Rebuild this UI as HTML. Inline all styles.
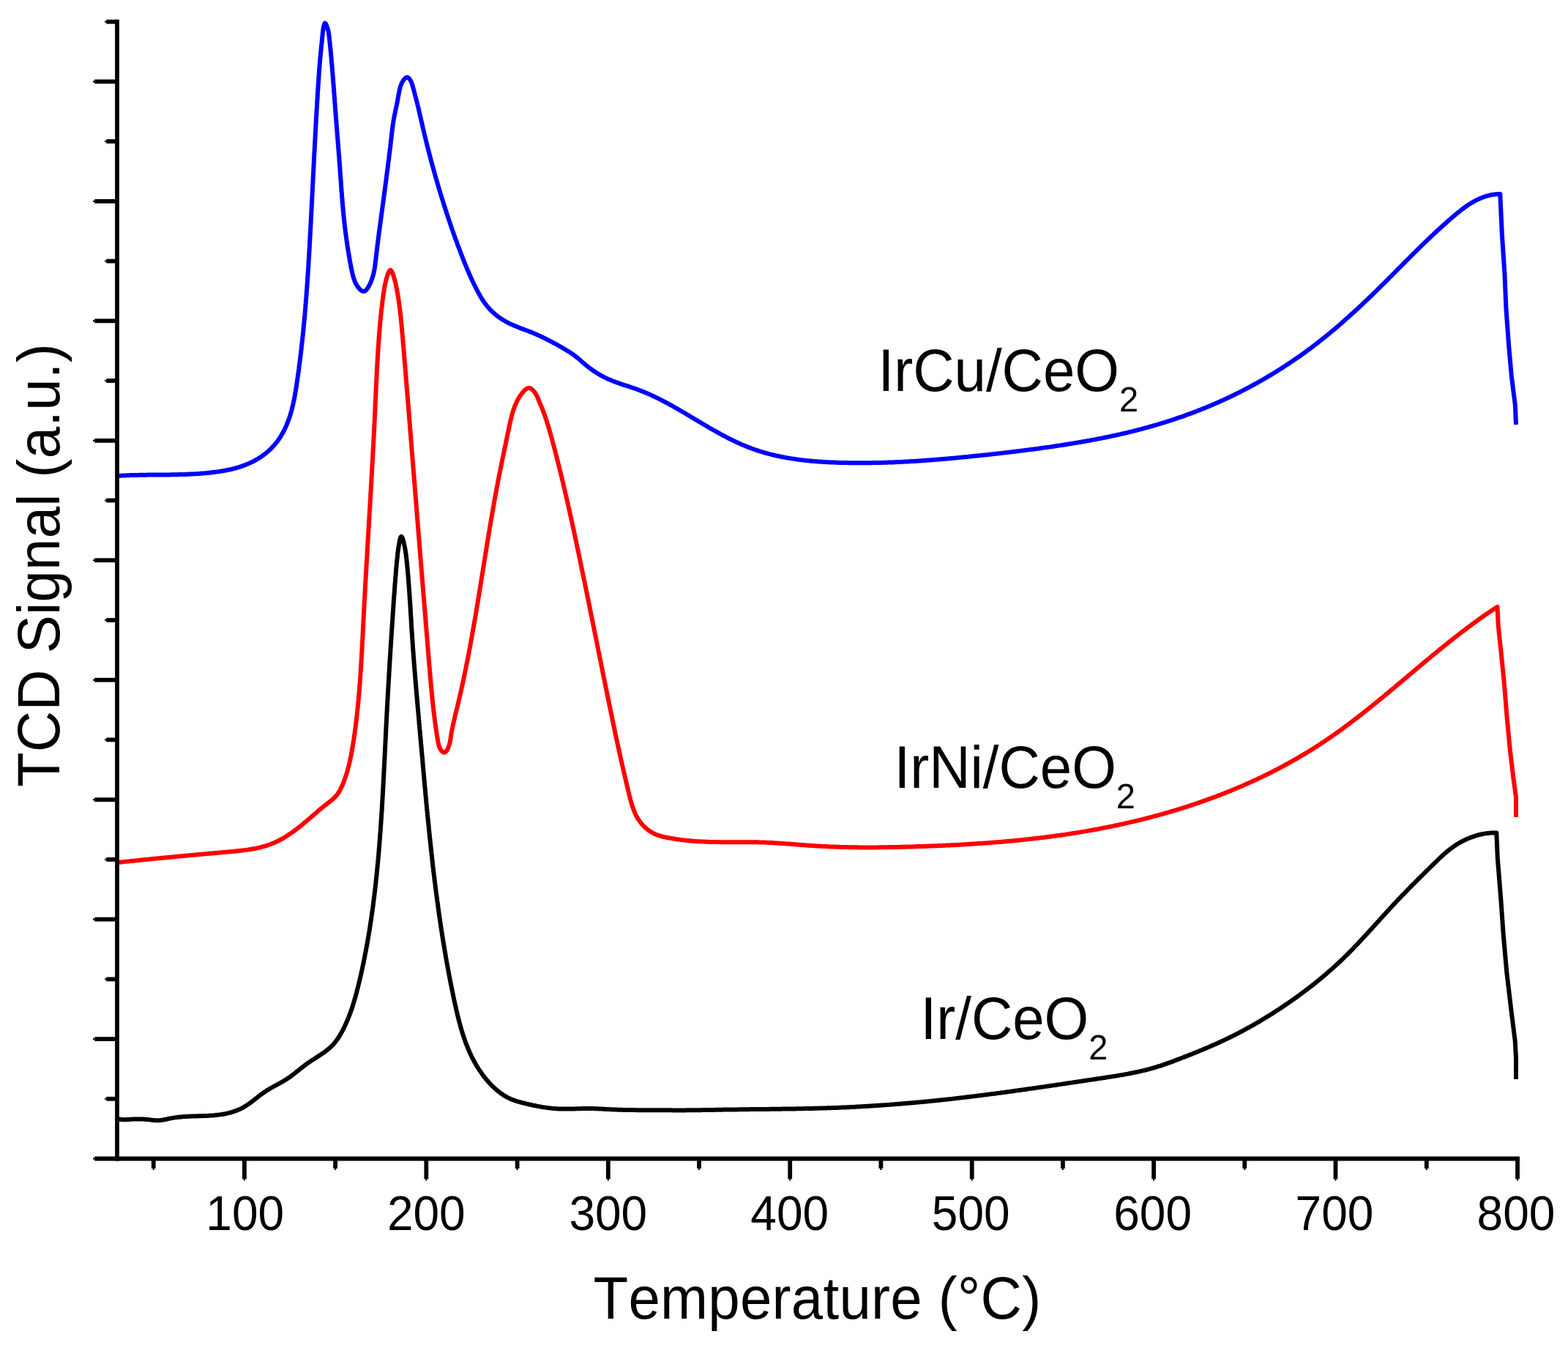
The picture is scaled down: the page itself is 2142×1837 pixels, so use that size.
<!DOCTYPE html><html><head><meta charset="utf-8"><title>TPR</title>
<style>html,body{margin:0;padding:0;background:#fff;}svg{display:block;}text{font-family:"Liberation Sans",Arial,sans-serif;fill:#000;font-kerning:none;font-feature-settings:"kern" 0;}</style></head><body>
<svg width="2142" height="1837" viewBox="0 0 2142 1837">
<rect width="2142" height="1837" fill="#fff"/>
<g fill="none" stroke-width="6" stroke-linejoin="round" stroke-linecap="butt">
<path stroke="#000" d="M160.0,1527.8 L161.4,1528.2 L162.9,1528.5 L164.4,1528.8 L165.9,1529.0 L167.4,1529.1 L168.9,1529.2 L170.4,1529.2 L171.9,1529.2 L173.4,1529.1 L174.9,1529.0 L176.4,1528.9 L177.9,1528.8 L179.4,1528.7 L180.8,1528.6 L182.3,1528.5 L183.8,1528.5 L185.3,1528.4 L186.8,1528.4 L188.3,1528.4 L189.8,1528.4 L191.3,1528.4 L192.8,1528.5 L194.3,1528.5 L195.8,1528.6 L197.3,1528.7 L198.8,1528.8 L200.3,1528.9 L201.8,1529.1 L203.3,1529.2 L204.8,1529.4 L206.3,1529.6 L207.8,1529.8 L209.3,1529.9 L210.8,1530.1 L212.2,1530.2 L213.7,1530.3 L215.2,1530.3 L216.7,1530.3 L218.2,1530.2 L219.7,1530.0 L221.2,1529.8 L222.7,1529.6 L224.2,1529.3 L225.6,1529.0 L227.1,1528.7 L228.6,1528.4 L230.0,1528.0 L231.5,1527.7 L233.0,1527.4 L234.4,1527.1 L235.9,1526.9 L237.4,1526.6 L238.9,1526.4 L240.4,1526.2 L241.9,1526.0 L243.3,1525.8 L244.8,1525.7 L246.3,1525.5 L247.8,1525.4 L249.3,1525.3 L250.8,1525.1 L252.3,1525.0 L253.8,1524.9 L255.3,1524.9 L256.8,1524.8 L258.3,1524.7 L259.8,1524.7 L261.3,1524.6 L262.8,1524.5 L264.3,1524.5 L265.8,1524.5 L267.3,1524.4 L268.8,1524.4 L270.3,1524.3 L271.8,1524.3 L273.3,1524.2 L274.8,1524.2 L276.3,1524.2 L277.8,1524.1 L279.3,1524.1 L280.8,1524.0 L282.3,1523.9 L283.8,1523.9 L285.3,1523.8 L286.8,1523.7 L288.3,1523.6 L289.8,1523.5 L291.3,1523.4 L292.8,1523.3 L294.2,1523.1 L295.7,1523.0 L297.2,1522.8 L298.7,1522.6 L300.2,1522.4 L301.7,1522.2 L303.2,1522.0 L304.7,1521.7 L306.1,1521.5 L307.6,1521.2 L309.1,1520.9 L310.5,1520.6 L312.0,1520.2 L313.4,1519.9 L314.9,1519.5 L316.3,1519.1 L317.8,1518.6 L319.2,1518.2 L320.6,1517.7 L322.0,1517.2 L323.4,1516.7 L324.8,1516.1 L326.2,1515.5 L327.6,1514.9 L328.9,1514.3 L330.3,1513.6 L331.6,1512.9 L332.9,1512.1 L334.2,1511.4 L335.5,1510.6 L336.7,1509.8 L338.0,1509.0 L339.2,1508.1 L340.4,1507.2 L341.7,1506.4 L342.9,1505.5 L344.1,1504.6 L345.3,1503.7 L346.5,1502.8 L347.6,1501.8 L348.8,1500.9 L350.0,1500.0 L351.2,1499.1 L352.4,1498.1 L353.6,1497.2 L354.7,1496.3 L355.9,1495.4 L357.1,1494.5 L358.3,1493.6 L359.6,1492.7 L360.8,1491.9 L362.0,1491.0 L363.3,1490.2 L364.5,1489.4 L365.8,1488.6 L367.1,1487.8 L368.4,1487.1 L369.7,1486.3 L371.0,1485.6 L372.3,1484.8 L373.6,1484.1 L374.9,1483.4 L376.2,1482.7 L377.6,1482.0 L378.9,1481.2 L380.2,1480.5 L381.5,1479.8 L382.8,1479.1 L384.1,1478.3 L385.4,1477.6 L386.7,1476.8 L388.0,1476.1 L389.3,1475.3 L390.6,1474.5 L391.8,1473.7 L393.1,1472.9 L394.3,1472.0 L395.6,1471.2 L396.8,1470.3 L398.0,1469.4 L399.2,1468.5 L400.4,1467.6 L401.6,1466.7 L402.8,1465.8 L403.9,1464.9 L405.1,1463.9 L406.3,1463.0 L407.5,1462.1 L408.6,1461.1 L409.8,1460.2 L411.0,1459.3 L412.2,1458.3 L413.3,1457.4 L414.5,1456.5 L415.7,1455.6 L416.9,1454.7 L418.1,1453.8 L419.3,1452.9 L420.5,1452.0 L421.8,1451.2 L423.0,1450.3 L424.2,1449.5 L425.5,1448.6 L426.7,1447.8 L428.0,1447.0 L429.3,1446.2 L430.5,1445.4 L431.8,1444.6 L433.1,1443.8 L434.3,1442.9 L435.6,1442.1 L436.8,1441.3 L438.1,1440.5 L439.3,1439.6 L440.6,1438.8 L441.8,1437.9 L443.0,1437.1 L444.2,1436.2 L445.4,1435.3 L446.6,1434.4 L447.8,1433.4 L448.9,1432.5 L450.1,1431.5 L451.2,1430.5 L452.3,1429.5 L453.4,1428.4 L454.4,1427.4 L455.4,1426.3 L456.4,1425.1 L457.4,1424.0 L458.3,1422.8 L459.2,1421.6 L460.1,1420.4 L461.0,1419.2 L461.8,1418.0 L462.7,1416.7 L463.5,1415.4 L464.2,1414.2 L465.0,1412.9 L465.7,1411.6 L466.5,1410.3 L467.2,1408.9 L467.9,1407.6 L468.6,1406.3 L469.3,1405.0 L470.0,1403.6 L470.6,1402.3 L471.3,1400.9 L471.9,1399.6 L472.5,1398.2 L473.1,1396.8 L473.7,1395.4 L474.3,1394.1 L474.9,1392.7 L475.5,1391.3 L476.0,1389.9 L476.6,1388.5 L477.1,1387.1 L477.7,1385.7 L478.2,1384.3 L478.7,1382.9 L479.2,1381.5 L479.7,1380.1 L480.2,1378.7 L480.7,1377.2 L481.2,1375.8 L481.6,1374.4 L482.1,1373.0 L482.5,1371.5 L483.0,1370.1 L483.4,1368.7 L483.8,1367.2 L484.2,1365.8 L484.7,1364.3 L485.1,1362.9 L485.5,1361.5 L485.9,1360.0 L486.3,1358.6 L486.7,1357.1 L487.1,1355.7 L487.4,1354.2 L487.8,1352.8 L488.2,1351.3 L488.5,1349.9 L488.9,1348.4 L489.3,1346.9 L489.6,1345.5 L490.0,1344.0 L490.3,1342.6 L490.7,1341.1 L491.0,1339.7 L491.4,1338.2 L491.7,1336.7 L492.1,1335.3 L492.4,1333.8 L492.7,1332.4 L493.1,1330.9 L493.4,1329.4 L493.7,1328.0 L494.1,1326.5 L494.4,1325.0 L494.7,1323.6 L495.0,1322.1 L495.3,1320.6 L495.6,1319.2 L496.0,1317.7 L496.3,1316.2 L496.6,1314.8 L496.9,1313.3 L497.2,1311.8 L497.5,1310.4 L497.8,1308.9 L498.1,1307.4 L498.4,1306.0 L498.6,1304.5 L498.9,1303.0 L499.2,1301.5 L499.5,1300.1 L499.8,1298.6 L500.0,1297.1 L500.3,1295.6 L500.6,1294.2 L500.9,1292.7 L501.1,1291.2 L501.4,1289.7 L501.7,1288.3 L501.9,1286.8 L502.2,1285.3 L502.4,1283.8 L502.7,1282.4 L503.0,1280.9 L503.2,1279.4 L503.5,1277.9 L503.7,1276.4 L503.9,1275.0 L504.2,1273.5 L504.4,1272.0 L504.7,1270.5 L504.9,1269.0 L505.1,1267.6 L505.4,1266.1 L505.6,1264.6 L505.8,1263.1 L506.1,1261.6 L506.3,1260.2 L506.5,1258.7 L506.7,1257.2 L507.0,1255.7 L507.2,1254.2 L507.4,1252.7 L507.6,1251.3 L507.8,1249.8 L508.0,1248.3 L508.2,1246.8 L508.4,1245.3 L508.7,1243.8 L508.9,1242.3 L509.1,1240.9 L509.3,1239.4 L509.5,1237.9 L509.7,1236.4 L509.9,1234.9 L510.0,1233.4 L510.2,1231.9 L510.4,1230.4 L510.6,1229.0 L510.8,1227.5 L511.0,1226.0 L511.2,1224.5 L511.4,1223.0 L511.5,1221.5 L511.7,1220.0 L511.9,1218.5 L512.1,1217.1 L512.2,1215.6 L512.4,1214.1 L512.6,1212.6 L512.8,1211.1 L512.9,1209.6 L513.1,1208.1 L513.3,1206.6 L513.4,1205.1 L513.6,1203.6 L513.7,1202.1 L513.9,1200.7 L514.1,1199.2 L514.2,1197.7 L514.4,1196.2 L514.5,1194.7 L514.7,1193.2 L514.8,1191.7 L515.0,1190.2 L515.1,1188.7 L515.3,1187.2 L515.4,1185.7 L515.6,1184.2 L515.7,1182.8 L515.8,1181.3 L516.0,1179.8 L516.1,1178.3 L516.3,1176.8 L516.4,1175.3 L516.5,1173.8 L516.7,1172.3 L516.8,1170.8 L516.9,1169.3 L517.1,1167.8 L517.2,1166.3 L517.3,1164.8 L517.5,1163.3 L517.6,1161.8 L517.7,1160.3 L517.8,1158.9 L518.0,1157.4 L518.1,1155.9 L518.2,1154.4 L518.3,1152.9 L518.4,1151.4 L518.6,1149.9 L518.7,1148.4 L518.8,1146.9 L518.9,1145.4 L519.0,1143.9 L519.1,1142.4 L519.2,1140.9 L519.3,1139.4 L519.5,1137.9 L519.6,1136.4 L519.7,1134.9 L519.8,1133.4 L519.9,1131.9 L520.0,1130.4 L520.1,1128.9 L520.2,1127.5 L520.3,1126.0 L520.4,1124.5 L520.5,1123.0 L520.6,1121.5 L520.7,1120.0 L520.8,1118.5 L520.9,1117.0 L521.0,1115.5 L521.1,1114.0 L521.2,1112.5 L521.3,1111.0 L521.4,1109.5 L521.5,1108.0 L521.6,1106.5 L521.7,1105.0 L521.8,1103.5 L521.8,1102.0 L521.9,1100.5 L522.0,1099.0 L522.1,1097.5 L522.2,1096.0 L522.3,1094.5 L522.4,1093.0 L522.5,1091.5 L522.6,1090.0 L522.6,1088.5 L522.7,1087.0 L522.8,1085.5 L522.9,1084.0 L523.0,1082.5 L523.1,1081.1 L523.1,1079.6 L523.2,1078.1 L523.3,1076.6 L523.4,1075.1 L523.5,1073.6 L523.5,1072.1 L523.6,1070.6 L523.7,1069.1 L523.8,1067.6 L523.9,1066.1 L523.9,1064.6 L524.0,1063.1 L524.1,1061.6 L524.2,1060.1 L524.3,1058.6 L524.3,1057.1 L524.4,1055.6 L524.5,1054.1 L524.6,1052.6 L524.6,1051.1 L524.7,1049.6 L524.8,1048.1 L524.9,1046.6 L524.9,1045.1 L525.0,1043.6 L525.1,1042.1 L525.2,1040.6 L525.2,1039.1 L525.3,1037.6 L525.4,1036.1 L525.5,1034.6 L525.5,1033.1 L525.6,1031.6 L525.7,1030.1 L525.8,1028.6 L525.8,1027.1 L525.9,1025.6 L526.0,1024.1 L526.0,1022.6 L526.1,1021.1 L526.2,1019.6 L526.3,1018.1 L526.3,1016.7 L526.4,1015.2 L526.5,1013.7 L526.6,1012.2 L526.6,1010.7 L526.7,1009.2 L526.8,1007.7 L526.9,1006.2 L526.9,1004.7 L527.0,1003.2 L527.1,1001.7 L527.1,1000.2 L527.2,998.7 L527.3,997.2 L527.4,995.7 L527.4,994.2 L527.5,992.7 L527.6,991.2 L527.7,989.7 L527.7,988.2 L527.8,986.7 L527.9,985.2 L528.0,983.7 L528.1,982.2 L528.1,980.7 L528.2,979.2 L528.3,977.7 L528.4,976.2 L528.4,974.7 L528.5,973.2 L528.6,971.7 L528.7,970.2 L528.8,968.7 L528.8,967.2 L528.9,965.7 L529.0,964.2 L529.1,962.7 L529.2,961.2 L529.2,959.7 L529.3,958.2 L529.4,956.7 L529.5,955.2 L529.6,953.8 L529.7,952.3 L529.7,950.8 L529.8,949.3 L529.9,947.8 L530.0,946.3 L530.1,944.8 L530.2,943.3 L530.2,941.8 L530.3,940.3 L530.4,938.8 L530.5,937.3 L530.6,935.8 L530.7,934.3 L530.7,932.8 L530.8,931.3 L530.9,929.8 L531.0,928.3 L531.1,926.8 L531.2,925.3 L531.3,923.8 L531.4,922.3 L531.4,920.8 L531.5,919.3 L531.6,917.8 L531.7,916.3 L531.8,914.8 L531.9,913.3 L532.0,911.8 L532.1,910.3 L532.2,908.8 L532.3,907.3 L532.3,905.8 L532.4,904.3 L532.5,902.8 L532.6,901.4 L532.7,899.9 L532.8,898.4 L532.9,896.9 L533.0,895.4 L533.1,893.9 L533.2,892.4 L533.3,890.9 L533.4,889.4 L533.4,887.9 L533.5,886.4 L533.6,884.9 L533.7,883.4 L533.8,881.9 L533.9,880.4 L534.0,878.9 L534.1,877.4 L534.2,875.9 L534.3,874.4 L534.4,872.9 L534.5,871.4 L534.6,869.9 L534.7,868.4 L534.8,866.9 L534.9,865.4 L535.0,863.9 L535.1,862.4 L535.2,860.9 L535.3,859.4 L535.4,858.0 L535.5,856.5 L535.6,855.0 L535.7,853.5 L535.8,852.0 L535.9,850.5 L536.0,849.0 L536.1,847.5 L536.2,846.0 L536.3,844.5 L536.4,843.0 L536.5,841.5 L536.6,840.0 L536.7,838.5 L536.8,837.0 L536.9,835.5 L537.0,834.0 L537.1,832.5 L537.2,831.0 L537.3,829.5 L537.4,828.0 L537.5,826.5 L537.6,825.0 L537.7,823.5 L537.8,822.0 L537.9,820.5 L538.0,819.1 L538.1,817.6 L538.2,816.1 L538.3,814.6 L538.4,813.1 L538.6,811.6 L538.7,810.1 L538.8,808.6 L538.9,807.1 L539.0,805.6 L539.1,804.1 L539.2,802.6 L539.3,801.1 L539.4,799.6 L539.5,798.1 L539.6,796.6 L539.8,795.1 L539.9,793.6 L540.0,792.1 L540.1,790.6 L540.2,789.1 L540.3,787.6 L540.5,786.1 L540.6,784.7 L540.7,783.2 L540.8,781.7 L541.0,780.2 L541.1,778.7 L541.2,777.2 L541.3,775.7 L541.5,774.2 L541.6,772.7 L541.7,771.2 L541.9,769.7 L542.0,768.2 L542.2,766.7 L542.3,765.2 L542.5,763.7 L542.6,762.3 L542.8,760.8 L542.9,759.3 L543.1,757.8 L543.2,756.3 L543.4,754.8 L543.6,753.3 L543.8,751.8 L544.0,750.3 L544.2,748.9 L544.5,747.4 L544.7,745.9 L544.9,744.4 L545.2,742.9 L545.5,741.5 L545.7,740.0 L546.0,738.5 L546.3,737.0 L546.7,735.6 L547.2,734.2 L547.9,732.8 L549.0,733.3 L549.7,734.6 L550.2,736.0 L550.6,737.5 L551.0,738.9 L551.4,740.4 L551.8,741.8 L552.1,743.3 L552.4,744.8 L552.7,746.2 L553.0,747.7 L553.3,749.2 L553.6,750.7 L553.8,752.1 L554.0,753.6 L554.2,755.1 L554.5,756.6 L554.7,758.1 L554.8,759.6 L555.0,761.1 L555.2,762.5 L555.4,764.0 L555.5,765.5 L555.7,767.0 L555.8,768.5 L556.0,770.0 L556.1,771.5 L556.3,773.0 L556.4,774.5 L556.6,776.0 L556.7,777.5 L556.8,779.0 L557.0,780.4 L557.1,781.9 L557.2,783.4 L557.4,784.9 L557.5,786.4 L557.6,787.9 L557.8,789.4 L557.9,790.9 L558.0,792.4 L558.1,793.9 L558.2,795.4 L558.3,796.9 L558.5,798.4 L558.6,799.9 L558.7,801.4 L558.8,802.9 L558.9,804.4 L559.0,805.9 L559.1,807.4 L559.2,808.9 L559.3,810.3 L559.4,811.8 L559.5,813.3 L559.6,814.8 L559.7,816.3 L559.8,817.8 L559.9,819.3 L560.0,820.8 L560.1,822.3 L560.2,823.8 L560.3,825.3 L560.4,826.8 L560.5,828.3 L560.6,829.8 L560.7,831.3 L560.8,832.8 L560.8,834.3 L560.9,835.8 L561.0,837.3 L561.1,838.8 L561.2,840.3 L561.3,841.8 L561.4,843.3 L561.5,844.8 L561.6,846.3 L561.7,847.8 L561.8,849.3 L561.8,850.8 L561.9,852.3 L562.0,853.8 L562.1,855.3 L562.2,856.7 L562.3,858.2 L562.4,859.7 L562.5,861.2 L562.6,862.7 L562.7,864.2 L562.8,865.7 L562.9,867.2 L563.0,868.7 L563.1,870.2 L563.2,871.7 L563.3,873.2 L563.4,874.7 L563.5,876.2 L563.6,877.7 L563.7,879.2 L563.8,880.7 L563.9,882.2 L564.0,883.7 L564.1,885.2 L564.2,886.7 L564.3,888.2 L564.5,889.7 L564.6,891.2 L564.7,892.7 L564.8,894.1 L564.9,895.6 L565.0,897.1 L565.1,898.6 L565.2,900.1 L565.3,901.6 L565.5,903.1 L565.6,904.6 L565.7,906.1 L565.8,907.6 L565.9,909.1 L566.0,910.6 L566.2,912.1 L566.3,913.6 L566.4,915.1 L566.5,916.6 L566.6,918.1 L566.8,919.6 L566.9,921.1 L567.0,922.6 L567.1,924.1 L567.3,925.5 L567.4,927.0 L567.5,928.5 L567.6,930.0 L567.7,931.5 L567.9,933.0 L568.0,934.5 L568.1,936.0 L568.2,937.5 L568.4,939.0 L568.5,940.5 L568.6,942.0 L568.8,943.5 L568.9,945.0 L569.0,946.5 L569.1,948.0 L569.3,949.5 L569.4,950.9 L569.5,952.4 L569.7,953.9 L569.8,955.4 L569.9,956.9 L570.0,958.4 L570.2,959.9 L570.3,961.4 L570.4,962.9 L570.6,964.4 L570.7,965.9 L570.8,967.4 L571.0,968.9 L571.1,970.4 L571.2,971.9 L571.4,973.4 L571.5,974.9 L571.6,976.3 L571.8,977.8 L571.9,979.3 L572.0,980.8 L572.1,982.3 L572.3,983.8 L572.4,985.3 L572.5,986.8 L572.7,988.3 L572.8,989.8 L572.9,991.3 L573.1,992.8 L573.2,994.3 L573.3,995.8 L573.5,997.3 L573.6,998.8 L573.7,1000.2 L573.9,1001.7 L574.0,1003.2 L574.1,1004.7 L574.3,1006.2 L574.4,1007.7 L574.5,1009.2 L574.7,1010.7 L574.8,1012.2 L574.9,1013.7 L575.1,1015.2 L575.2,1016.7 L575.3,1018.2 L575.5,1019.7 L575.6,1021.2 L575.7,1022.7 L575.9,1024.1 L576.0,1025.6 L576.1,1027.1 L576.3,1028.6 L576.4,1030.1 L576.5,1031.6 L576.7,1033.1 L576.8,1034.6 L576.9,1036.1 L577.1,1037.6 L577.2,1039.1 L577.3,1040.6 L577.5,1042.1 L577.6,1043.6 L577.7,1045.1 L577.9,1046.6 L578.0,1048.0 L578.1,1049.5 L578.3,1051.0 L578.4,1052.5 L578.5,1054.0 L578.7,1055.5 L578.8,1057.0 L578.9,1058.5 L579.1,1060.0 L579.2,1061.5 L579.3,1063.0 L579.5,1064.5 L579.6,1066.0 L579.7,1067.5 L579.9,1069.0 L580.0,1070.4 L580.1,1071.9 L580.3,1073.4 L580.4,1074.9 L580.6,1076.4 L580.7,1077.9 L580.8,1079.4 L581.0,1080.9 L581.1,1082.4 L581.2,1083.9 L581.4,1085.4 L581.5,1086.9 L581.7,1088.4 L581.8,1089.9 L581.9,1091.4 L582.1,1092.8 L582.2,1094.3 L582.4,1095.8 L582.5,1097.3 L582.7,1098.8 L582.8,1100.3 L582.9,1101.8 L583.1,1103.3 L583.2,1104.8 L583.4,1106.3 L583.5,1107.8 L583.7,1109.3 L583.8,1110.8 L583.9,1112.3 L584.1,1113.7 L584.2,1115.2 L584.4,1116.7 L584.5,1118.2 L584.7,1119.7 L584.8,1121.2 L585.0,1122.7 L585.1,1124.2 L585.3,1125.7 L585.4,1127.2 L585.6,1128.7 L585.7,1130.2 L585.9,1131.7 L586.0,1133.1 L586.2,1134.6 L586.3,1136.1 L586.5,1137.6 L586.6,1139.1 L586.8,1140.6 L586.9,1142.1 L587.1,1143.6 L587.3,1145.1 L587.4,1146.6 L587.6,1148.1 L587.7,1149.6 L587.9,1151.0 L588.0,1152.5 L588.2,1154.0 L588.4,1155.5 L588.5,1157.0 L588.7,1158.5 L588.8,1160.0 L589.0,1161.5 L589.2,1163.0 L589.3,1164.5 L589.5,1166.0 L589.7,1167.4 L589.8,1168.9 L590.0,1170.4 L590.2,1171.9 L590.3,1173.4 L590.5,1174.9 L590.7,1176.4 L590.8,1177.9 L591.0,1179.4 L591.2,1180.9 L591.3,1182.3 L591.5,1183.8 L591.7,1185.3 L591.9,1186.8 L592.0,1188.3 L592.2,1189.8 L592.4,1191.3 L592.6,1192.8 L592.7,1194.3 L592.9,1195.7 L593.1,1197.2 L593.3,1198.7 L593.5,1200.2 L593.6,1201.7 L593.8,1203.2 L594.0,1204.7 L594.2,1206.2 L594.4,1207.7 L594.6,1209.1 L594.8,1210.6 L594.9,1212.1 L595.1,1213.6 L595.3,1215.1 L595.5,1216.6 L595.7,1218.1 L595.9,1219.6 L596.1,1221.0 L596.3,1222.5 L596.5,1224.0 L596.7,1225.5 L596.9,1227.0 L597.1,1228.5 L597.3,1230.0 L597.5,1231.5 L597.7,1232.9 L597.9,1234.4 L598.1,1235.9 L598.3,1237.4 L598.5,1238.9 L598.7,1240.4 L598.9,1241.9 L599.1,1243.3 L599.3,1244.8 L599.5,1246.3 L599.7,1247.8 L599.9,1249.3 L600.1,1250.8 L600.4,1252.2 L600.6,1253.7 L600.8,1255.2 L601.0,1256.7 L601.2,1258.2 L601.4,1259.7 L601.7,1261.1 L601.9,1262.6 L602.1,1264.1 L602.3,1265.6 L602.5,1267.1 L602.8,1268.6 L603.0,1270.0 L603.2,1271.5 L603.5,1273.0 L603.7,1274.5 L603.9,1276.0 L604.1,1277.5 L604.4,1278.9 L604.6,1280.4 L604.8,1281.9 L605.1,1283.4 L605.3,1284.9 L605.6,1286.3 L605.8,1287.8 L606.0,1289.3 L606.3,1290.8 L606.5,1292.3 L606.8,1293.7 L607.0,1295.2 L607.3,1296.7 L607.5,1298.2 L607.8,1299.7 L608.0,1301.1 L608.3,1302.6 L608.5,1304.1 L608.8,1305.6 L609.0,1307.0 L609.3,1308.5 L609.6,1310.0 L609.8,1311.5 L610.1,1313.0 L610.3,1314.4 L610.6,1315.9 L610.9,1317.4 L611.1,1318.9 L611.4,1320.3 L611.7,1321.8 L611.9,1323.3 L612.2,1324.8 L612.5,1326.2 L612.8,1327.7 L613.0,1329.2 L613.3,1330.7 L613.6,1332.1 L613.9,1333.6 L614.2,1335.1 L614.5,1336.5 L614.7,1338.0 L615.0,1339.5 L615.3,1341.0 L615.6,1342.4 L615.9,1343.9 L616.2,1345.4 L616.5,1346.8 L616.8,1348.3 L617.1,1349.8 L617.4,1351.3 L617.7,1352.7 L618.0,1354.2 L618.3,1355.7 L618.6,1357.1 L618.9,1358.6 L619.2,1360.1 L619.5,1361.5 L619.8,1363.0 L620.1,1364.5 L620.4,1365.9 L620.8,1367.4 L621.1,1368.9 L621.4,1370.3 L621.7,1371.8 L622.0,1373.3 L622.4,1374.7 L622.7,1376.2 L623.0,1377.7 L623.3,1379.1 L623.7,1380.6 L624.0,1382.0 L624.4,1383.5 L624.7,1385.0 L625.1,1386.4 L625.4,1387.9 L625.8,1389.3 L626.1,1390.8 L626.5,1392.2 L626.9,1393.7 L627.2,1395.1 L627.6,1396.6 L628.0,1398.0 L628.4,1399.5 L628.8,1400.9 L629.2,1402.4 L629.6,1403.8 L630.0,1405.3 L630.5,1406.7 L630.9,1408.1 L631.3,1409.6 L631.8,1411.0 L632.2,1412.4 L632.7,1413.9 L633.1,1415.3 L633.6,1416.7 L634.1,1418.1 L634.6,1419.5 L635.1,1421.0 L635.6,1422.4 L636.1,1423.8 L636.6,1425.2 L637.2,1426.6 L637.7,1428.0 L638.3,1429.4 L638.8,1430.8 L639.4,1432.2 L640.0,1433.5 L640.6,1434.9 L641.2,1436.3 L641.8,1437.7 L642.4,1439.0 L643.0,1440.4 L643.7,1441.7 L644.3,1443.1 L645.0,1444.4 L645.7,1445.8 L646.4,1447.1 L647.1,1448.4 L647.8,1449.7 L648.5,1451.1 L649.3,1452.4 L650.0,1453.7 L650.8,1455.0 L651.5,1456.2 L652.3,1457.5 L653.1,1458.8 L653.9,1460.1 L654.7,1461.3 L655.6,1462.6 L656.4,1463.8 L657.3,1465.0 L658.1,1466.3 L659.0,1467.5 L659.9,1468.7 L660.8,1469.9 L661.7,1471.1 L662.6,1472.2 L663.6,1473.4 L664.5,1474.6 L665.5,1475.7 L666.5,1476.8 L667.5,1478.0 L668.5,1479.1 L669.5,1480.2 L670.6,1481.3 L671.6,1482.3 L672.7,1483.4 L673.7,1484.4 L674.8,1485.5 L675.9,1486.5 L677.0,1487.5 L678.2,1488.5 L679.3,1489.4 L680.5,1490.4 L681.7,1491.3 L682.8,1492.2 L684.1,1493.1 L685.3,1494.0 L686.5,1494.8 L687.8,1495.7 L689.0,1496.5 L690.3,1497.2 L691.6,1498.0 L692.9,1498.7 L694.3,1499.4 L695.6,1500.1 L697.0,1500.7 L698.3,1501.3 L699.7,1501.8 L701.1,1502.4 L702.5,1502.9 L704.0,1503.4 L705.4,1503.8 L706.8,1504.3 L708.3,1504.7 L709.7,1505.1 L711.2,1505.5 L712.6,1505.9 L714.1,1506.2 L715.5,1506.6 L717.0,1507.0 L718.4,1507.3 L719.9,1507.7 L721.3,1508.0 L722.8,1508.4 L724.3,1508.7 L725.7,1509.0 L727.2,1509.4 L728.7,1509.7 L730.1,1510.0 L731.6,1510.3 L733.1,1510.6 L734.5,1510.9 L736.0,1511.1 L737.5,1511.4 L739.0,1511.7 L740.4,1511.9 L741.9,1512.2 L743.4,1512.4 L744.9,1512.6 L746.4,1512.8 L747.9,1513.0 L749.3,1513.2 L750.8,1513.4 L752.3,1513.6 L753.8,1513.7 L755.3,1513.9 L756.8,1514.0 L758.3,1514.1 L759.8,1514.2 L761.3,1514.3 L762.8,1514.4 L764.3,1514.5 L765.8,1514.5 L767.3,1514.6 L768.8,1514.6 L770.3,1514.6 L771.8,1514.6 L773.3,1514.6 L774.8,1514.6 L776.3,1514.6 L777.8,1514.6 L779.3,1514.5 L780.8,1514.5 L782.3,1514.5 L783.8,1514.4 L785.3,1514.4 L786.8,1514.3 L788.3,1514.3 L789.8,1514.2 L791.3,1514.2 L792.8,1514.2 L794.3,1514.1 L795.8,1514.1 L797.3,1514.0 L798.8,1514.0 L800.3,1514.0 L801.8,1514.0 L803.3,1514.0 L804.8,1514.0 L806.3,1514.0 L807.8,1514.1 L809.3,1514.1 L810.8,1514.1 L812.3,1514.2 L813.8,1514.2 L815.3,1514.3 L816.8,1514.3 L818.3,1514.4 L819.8,1514.5 L821.3,1514.6 L822.7,1514.6 L824.2,1514.7 L825.7,1514.8 L827.2,1514.9 L828.7,1514.9 L830.2,1515.0 L831.7,1515.1 L833.2,1515.2 L834.7,1515.3 L836.2,1515.3 L837.7,1515.4 L839.2,1515.5 L840.7,1515.5 L842.2,1515.6 L843.7,1515.7 L845.2,1515.7 L846.7,1515.8 L848.2,1515.8 L849.7,1515.8 L851.2,1515.9 L852.7,1515.9 L854.2,1516.0 L855.7,1516.0 L857.2,1516.0 L858.7,1516.0 L860.2,1516.1 L861.7,1516.1 L863.2,1516.1 L864.7,1516.1 L866.2,1516.1 L867.7,1516.1 L869.2,1516.2 L870.7,1516.2 L872.2,1516.2 L873.7,1516.2 L875.2,1516.2 L876.7,1516.2 L878.2,1516.2 L879.7,1516.2 L881.2,1516.2 L882.7,1516.2 L884.2,1516.2 L885.7,1516.2 L887.2,1516.2 L888.7,1516.2 L890.2,1516.2 L891.7,1516.2 L893.2,1516.2 L894.7,1516.2 L896.2,1516.2 L897.7,1516.3 L899.2,1516.3 L900.7,1516.3 L902.2,1516.3 L903.7,1516.3 L905.2,1516.3 L906.7,1516.3 L908.2,1516.3 L909.7,1516.3 L911.2,1516.3 L912.7,1516.3 L914.2,1516.3 L915.7,1516.3 L917.2,1516.3 L918.7,1516.4 L920.2,1516.4 L921.7,1516.4 L923.2,1516.4 L924.7,1516.4 L926.2,1516.4 L927.7,1516.4 L929.2,1516.4 L930.7,1516.4 L932.2,1516.4 L933.7,1516.4 L935.2,1516.4 L936.7,1516.4 L938.2,1516.3 L939.7,1516.3 L941.2,1516.3 L942.7,1516.3 L944.2,1516.3 L945.7,1516.3 L947.2,1516.3 L948.7,1516.3 L950.2,1516.2 L951.7,1516.2 L953.2,1516.2 L954.7,1516.2 L956.2,1516.2 L957.7,1516.2 L959.2,1516.1 L960.7,1516.1 L962.2,1516.1 L963.7,1516.1 L965.2,1516.0 L966.7,1516.0 L968.2,1516.0 L969.7,1516.0 L971.2,1515.9 L972.7,1515.9 L974.2,1515.9 L975.7,1515.9 L977.2,1515.8 L978.7,1515.8 L980.2,1515.8 L981.7,1515.8 L983.2,1515.7 L984.7,1515.7 L986.2,1515.7 L987.7,1515.6 L989.2,1515.6 L990.7,1515.6 L992.2,1515.6 L993.7,1515.6 L995.2,1515.5 L996.7,1515.5 L998.2,1515.5 L999.7,1515.5 L1001.2,1515.4 L1002.7,1515.4 L1004.2,1515.4 L1005.7,1515.4 L1007.2,1515.4 L1008.7,1515.3 L1010.2,1515.3 L1011.7,1515.3 L1013.2,1515.3 L1014.7,1515.3 L1016.2,1515.2 L1017.7,1515.2 L1019.2,1515.2 L1020.7,1515.2 L1022.2,1515.2 L1023.7,1515.2 L1025.2,1515.1 L1026.7,1515.1 L1028.2,1515.1 L1029.7,1515.1 L1031.2,1515.1 L1032.7,1515.1 L1034.2,1515.0 L1035.7,1515.0 L1037.2,1515.0 L1038.7,1515.0 L1040.2,1515.0 L1041.7,1515.0 L1043.2,1514.9 L1044.7,1514.9 L1046.2,1514.9 L1047.7,1514.9 L1049.2,1514.9 L1050.7,1514.9 L1052.2,1514.8 L1053.7,1514.8 L1055.1,1514.8 L1056.6,1514.8 L1058.1,1514.8 L1059.6,1514.8 L1061.1,1514.7 L1062.6,1514.7 L1064.1,1514.7 L1065.6,1514.7 L1067.1,1514.7 L1068.6,1514.6 L1070.1,1514.6 L1071.6,1514.6 L1073.1,1514.6 L1074.6,1514.5 L1076.1,1514.5 L1077.6,1514.5 L1079.1,1514.5 L1080.6,1514.5 L1082.1,1514.4 L1083.6,1514.4 L1085.1,1514.4 L1086.6,1514.4 L1088.1,1514.3 L1089.6,1514.3 L1091.1,1514.3 L1092.6,1514.3 L1094.1,1514.2 L1095.6,1514.2 L1097.1,1514.2 L1098.6,1514.1 L1100.1,1514.1 L1101.6,1514.1 L1103.1,1514.0 L1104.6,1514.0 L1106.1,1514.0 L1107.6,1513.9 L1109.1,1513.9 L1110.6,1513.9 L1112.1,1513.8 L1113.6,1513.8 L1115.1,1513.8 L1116.6,1513.7 L1118.1,1513.7 L1119.6,1513.6 L1121.1,1513.6 L1122.6,1513.6 L1124.1,1513.5 L1125.6,1513.5 L1127.1,1513.4 L1128.6,1513.4 L1130.1,1513.3 L1131.6,1513.3 L1133.1,1513.2 L1134.6,1513.2 L1136.1,1513.1 L1137.6,1513.1 L1139.1,1513.0 L1140.6,1513.0 L1142.1,1512.9 L1143.6,1512.9 L1145.1,1512.8 L1146.6,1512.7 L1148.1,1512.7 L1149.6,1512.6 L1151.1,1512.6 L1152.6,1512.5 L1154.1,1512.4 L1155.6,1512.4 L1157.1,1512.3 L1158.6,1512.2 L1160.1,1512.2 L1161.6,1512.1 L1163.1,1512.0 L1164.6,1511.9 L1166.1,1511.9 L1167.6,1511.8 L1169.1,1511.7 L1170.6,1511.6 L1172.1,1511.5 L1173.6,1511.5 L1175.1,1511.4 L1176.6,1511.3 L1178.1,1511.2 L1179.6,1511.1 L1181.0,1511.0 L1182.5,1511.0 L1184.0,1510.9 L1185.5,1510.8 L1187.0,1510.7 L1188.5,1510.6 L1190.0,1510.5 L1191.5,1510.4 L1193.0,1510.3 L1194.5,1510.2 L1196.0,1510.1 L1197.5,1510.0 L1199.0,1509.9 L1200.5,1509.8 L1202.0,1509.7 L1203.5,1509.6 L1205.0,1509.5 L1206.5,1509.4 L1208.0,1509.3 L1209.5,1509.2 L1211.0,1509.1 L1212.5,1509.0 L1214.0,1508.9 L1215.5,1508.8 L1217.0,1508.6 L1218.5,1508.5 L1220.0,1508.4 L1221.4,1508.3 L1222.9,1508.2 L1224.4,1508.1 L1225.9,1508.0 L1227.4,1507.8 L1228.9,1507.7 L1230.4,1507.6 L1231.9,1507.5 L1233.4,1507.3 L1234.9,1507.2 L1236.4,1507.1 L1237.9,1507.0 L1239.4,1506.8 L1240.9,1506.7 L1242.4,1506.6 L1243.9,1506.4 L1245.4,1506.3 L1246.9,1506.2 L1248.3,1506.0 L1249.8,1505.9 L1251.3,1505.8 L1252.8,1505.6 L1254.3,1505.5 L1255.8,1505.4 L1257.3,1505.2 L1258.8,1505.1 L1260.3,1504.9 L1261.8,1504.8 L1263.3,1504.7 L1264.8,1504.5 L1266.3,1504.4 L1267.8,1504.2 L1269.2,1504.1 L1270.7,1503.9 L1272.2,1503.8 L1273.7,1503.6 L1275.2,1503.5 L1276.7,1503.3 L1278.2,1503.2 L1279.7,1503.0 L1281.2,1502.9 L1282.7,1502.7 L1284.2,1502.5 L1285.7,1502.4 L1287.1,1502.2 L1288.6,1502.1 L1290.1,1501.9 L1291.6,1501.7 L1293.1,1501.6 L1294.6,1501.4 L1296.1,1501.3 L1297.6,1501.1 L1299.1,1500.9 L1300.6,1500.8 L1302.1,1500.6 L1303.5,1500.4 L1305.0,1500.3 L1306.5,1500.1 L1308.0,1499.9 L1309.5,1499.7 L1311.0,1499.6 L1312.5,1499.4 L1314.0,1499.2 L1315.5,1499.1 L1317.0,1498.9 L1318.4,1498.7 L1319.9,1498.5 L1321.4,1498.3 L1322.9,1498.2 L1324.4,1498.0 L1325.9,1497.8 L1327.4,1497.6 L1328.9,1497.4 L1330.4,1497.3 L1331.8,1497.1 L1333.3,1496.9 L1334.8,1496.7 L1336.3,1496.5 L1337.8,1496.3 L1339.3,1496.2 L1340.8,1496.0 L1342.3,1495.8 L1343.7,1495.6 L1345.2,1495.4 L1346.7,1495.2 L1348.2,1495.0 L1349.7,1494.8 L1351.2,1494.6 L1352.7,1494.4 L1354.2,1494.2 L1355.6,1494.1 L1357.1,1493.9 L1358.6,1493.7 L1360.1,1493.5 L1361.6,1493.3 L1363.1,1493.1 L1364.6,1492.9 L1366.0,1492.7 L1367.5,1492.5 L1369.0,1492.3 L1370.5,1492.1 L1372.0,1491.9 L1373.5,1491.7 L1375.0,1491.5 L1376.5,1491.3 L1377.9,1491.1 L1379.4,1490.9 L1380.9,1490.7 L1382.4,1490.5 L1383.9,1490.3 L1385.4,1490.1 L1386.9,1489.8 L1388.3,1489.6 L1389.8,1489.4 L1391.3,1489.2 L1392.8,1489.0 L1394.3,1488.8 L1395.8,1488.6 L1397.2,1488.4 L1398.7,1488.2 L1400.2,1488.0 L1401.7,1487.8 L1403.2,1487.6 L1404.7,1487.3 L1406.2,1487.1 L1407.6,1486.9 L1409.1,1486.7 L1410.6,1486.5 L1412.1,1486.3 L1413.6,1486.1 L1415.1,1485.9 L1416.5,1485.6 L1418.0,1485.4 L1419.5,1485.2 L1421.0,1485.0 L1422.5,1484.8 L1424.0,1484.6 L1425.5,1484.4 L1426.9,1484.1 L1428.4,1483.9 L1429.9,1483.7 L1431.4,1483.5 L1432.9,1483.3 L1434.4,1483.1 L1435.8,1482.8 L1437.3,1482.6 L1438.8,1482.4 L1440.3,1482.2 L1441.8,1482.0 L1443.3,1481.7 L1444.7,1481.5 L1446.2,1481.3 L1447.7,1481.1 L1449.2,1480.9 L1450.7,1480.6 L1452.2,1480.4 L1453.6,1480.2 L1455.1,1480.0 L1456.6,1479.8 L1458.1,1479.5 L1459.6,1479.3 L1461.1,1479.1 L1462.5,1478.9 L1464.0,1478.7 L1465.5,1478.4 L1467.0,1478.2 L1468.5,1478.0 L1470.0,1477.8 L1471.4,1477.6 L1472.9,1477.3 L1474.4,1477.1 L1475.9,1476.9 L1477.4,1476.7 L1478.9,1476.4 L1480.3,1476.2 L1481.8,1476.0 L1483.3,1475.8 L1484.8,1475.6 L1486.3,1475.3 L1487.8,1475.1 L1489.2,1474.9 L1490.7,1474.7 L1492.2,1474.4 L1493.7,1474.2 L1495.2,1474.0 L1496.7,1473.8 L1498.1,1473.5 L1499.6,1473.3 L1501.1,1473.1 L1502.6,1472.9 L1504.1,1472.7 L1505.6,1472.4 L1507.0,1472.2 L1508.5,1472.0 L1510.0,1471.8 L1511.5,1471.5 L1513.0,1471.3 L1514.4,1471.1 L1515.9,1470.8 L1517.4,1470.6 L1518.9,1470.4 L1520.4,1470.1 L1521.9,1469.9 L1523.3,1469.7 L1524.8,1469.4 L1526.3,1469.2 L1527.8,1468.9 L1529.3,1468.7 L1530.7,1468.4 L1532.2,1468.2 L1533.7,1467.9 L1535.2,1467.7 L1536.6,1467.4 L1538.1,1467.1 L1539.6,1466.9 L1541.1,1466.6 L1542.5,1466.3 L1544.0,1466.0 L1545.5,1465.7 L1546.9,1465.4 L1548.4,1465.1 L1549.9,1464.8 L1551.4,1464.5 L1552.8,1464.2 L1554.3,1463.9 L1555.8,1463.6 L1557.2,1463.2 L1558.7,1462.9 L1560.1,1462.6 L1561.6,1462.2 L1563.1,1461.9 L1564.5,1461.5 L1566.0,1461.2 L1567.4,1460.8 L1568.9,1460.4 L1570.3,1460.0 L1571.8,1459.6 L1573.2,1459.2 L1574.7,1458.8 L1576.1,1458.4 L1577.5,1458.0 L1579.0,1457.6 L1580.4,1457.1 L1581.8,1456.7 L1583.3,1456.2 L1584.7,1455.8 L1586.1,1455.3 L1587.6,1454.8 L1589.0,1454.4 L1590.4,1453.9 L1591.8,1453.4 L1593.2,1452.9 L1594.6,1452.4 L1596.0,1451.9 L1597.5,1451.4 L1598.9,1450.9 L1600.3,1450.3 L1601.7,1449.8 L1603.1,1449.3 L1604.5,1448.8 L1605.9,1448.2 L1607.3,1447.7 L1608.7,1447.2 L1610.1,1446.6 L1611.5,1446.1 L1612.9,1445.6 L1614.3,1445.0 L1615.7,1444.5 L1617.1,1443.9 L1618.5,1443.4 L1619.9,1442.9 L1621.3,1442.3 L1622.7,1441.8 L1624.1,1441.2 L1625.5,1440.7 L1626.9,1440.1 L1628.3,1439.6 L1629.7,1439.0 L1631.0,1438.4 L1632.4,1437.9 L1633.8,1437.3 L1635.2,1436.8 L1636.6,1436.2 L1638.0,1435.6 L1639.4,1435.0 L1640.8,1434.5 L1642.1,1433.9 L1643.5,1433.3 L1644.9,1432.7 L1646.3,1432.2 L1647.7,1431.6 L1649.1,1431.0 L1650.4,1430.4 L1651.8,1429.8 L1653.2,1429.2 L1654.6,1428.6 L1655.9,1428.0 L1657.3,1427.4 L1658.7,1426.8 L1660.1,1426.2 L1661.4,1425.6 L1662.8,1425.0 L1664.2,1424.3 L1665.5,1423.7 L1666.9,1423.1 L1668.2,1422.5 L1669.6,1421.8 L1671.0,1421.2 L1672.3,1420.6 L1673.7,1419.9 L1675.0,1419.3 L1676.4,1418.6 L1677.7,1418.0 L1679.1,1417.3 L1680.4,1416.7 L1681.8,1416.0 L1683.1,1415.3 L1684.5,1414.7 L1685.8,1414.0 L1687.1,1413.3 L1688.5,1412.6 L1689.8,1412.0 L1691.1,1411.3 L1692.5,1410.6 L1693.8,1409.9 L1695.1,1409.2 L1696.5,1408.5 L1697.8,1407.8 L1699.1,1407.1 L1700.4,1406.4 L1701.7,1405.7 L1703.1,1404.9 L1704.4,1404.2 L1705.7,1403.5 L1707.0,1402.8 L1708.3,1402.0 L1709.6,1401.3 L1710.9,1400.6 L1712.2,1399.8 L1713.5,1399.1 L1714.8,1398.3 L1716.1,1397.6 L1717.4,1396.8 L1718.7,1396.1 L1720.0,1395.3 L1721.3,1394.6 L1722.6,1393.8 L1723.9,1393.0 L1725.2,1392.2 L1726.5,1391.5 L1727.7,1390.7 L1729.0,1389.9 L1730.3,1389.1 L1731.6,1388.3 L1732.8,1387.6 L1734.1,1386.8 L1735.4,1386.0 L1736.7,1385.2 L1737.9,1384.4 L1739.2,1383.6 L1740.5,1382.8 L1741.7,1381.9 L1743.0,1381.1 L1744.2,1380.3 L1745.5,1379.5 L1746.8,1378.7 L1748.0,1377.9 L1749.3,1377.0 L1750.5,1376.2 L1751.8,1375.4 L1753.0,1374.5 L1754.2,1373.7 L1755.5,1372.9 L1756.7,1372.0 L1758.0,1371.2 L1759.2,1370.3 L1760.4,1369.5 L1761.7,1368.6 L1762.9,1367.8 L1764.1,1366.9 L1765.4,1366.0 L1766.6,1365.2 L1767.8,1364.3 L1769.0,1363.4 L1770.3,1362.6 L1771.5,1361.7 L1772.7,1360.8 L1773.9,1359.9 L1775.1,1359.1 L1776.3,1358.2 L1777.5,1357.3 L1778.7,1356.4 L1779.9,1355.5 L1781.1,1354.6 L1782.3,1353.7 L1783.5,1352.8 L1784.7,1351.9 L1785.9,1351.0 L1787.1,1350.1 L1788.3,1349.2 L1789.5,1348.3 L1790.7,1347.3 L1791.9,1346.4 L1793.1,1345.5 L1794.2,1344.6 L1795.4,1343.6 L1796.6,1342.7 L1797.7,1341.8 L1798.9,1340.8 L1800.1,1339.9 L1801.2,1338.9 L1802.4,1338.0 L1803.6,1337.0 L1804.7,1336.1 L1805.9,1335.1 L1807.0,1334.1 L1808.2,1333.2 L1809.3,1332.2 L1810.5,1331.2 L1811.6,1330.3 L1812.7,1329.3 L1813.9,1328.3 L1815.0,1327.3 L1816.1,1326.3 L1817.3,1325.3 L1818.4,1324.4 L1819.5,1323.4 L1820.6,1322.4 L1821.7,1321.4 L1822.8,1320.4 L1824.0,1319.3 L1825.1,1318.3 L1826.2,1317.3 L1827.3,1316.3 L1828.4,1315.3 L1829.5,1314.2 L1830.6,1313.2 L1831.6,1312.2 L1832.7,1311.2 L1833.8,1310.1 L1834.9,1309.1 L1836.0,1308.0 L1837.0,1307.0 L1838.1,1305.9 L1839.2,1304.9 L1840.2,1303.8 L1841.3,1302.8 L1842.4,1301.7 L1843.4,1300.6 L1844.5,1299.6 L1845.5,1298.5 L1846.6,1297.4 L1847.6,1296.4 L1848.7,1295.3 L1849.7,1294.2 L1850.7,1293.1 L1851.8,1292.0 L1852.8,1291.0 L1853.9,1289.9 L1854.9,1288.8 L1855.9,1287.7 L1856.9,1286.6 L1858.0,1285.5 L1859.0,1284.4 L1860.0,1283.3 L1861.0,1282.2 L1862.1,1281.1 L1863.1,1280.0 L1864.1,1278.9 L1865.1,1277.8 L1866.1,1276.7 L1867.2,1275.6 L1868.2,1274.5 L1869.2,1273.4 L1870.2,1272.3 L1871.2,1271.2 L1872.2,1270.1 L1873.2,1269.0 L1874.2,1267.9 L1875.2,1266.8 L1876.2,1265.6 L1877.3,1264.5 L1878.3,1263.4 L1879.3,1262.3 L1880.3,1261.2 L1881.3,1260.1 L1882.3,1259.0 L1883.3,1257.9 L1884.3,1256.7 L1885.3,1255.6 L1886.3,1254.5 L1887.3,1253.4 L1888.3,1252.3 L1889.3,1251.2 L1890.3,1250.1 L1891.3,1249.0 L1892.4,1247.9 L1893.4,1246.8 L1894.4,1245.6 L1895.4,1244.5 L1896.4,1243.4 L1897.4,1242.3 L1898.4,1241.2 L1899.4,1240.1 L1900.5,1239.0 L1901.5,1237.9 L1902.5,1236.8 L1903.5,1235.7 L1904.5,1234.6 L1905.6,1233.5 L1906.6,1232.4 L1907.6,1231.3 L1908.6,1230.2 L1909.7,1229.2 L1910.7,1228.1 L1911.7,1227.0 L1912.8,1225.9 L1913.8,1224.8 L1914.8,1223.7 L1915.9,1222.6 L1916.9,1221.6 L1918.0,1220.5 L1919.0,1219.4 L1920.1,1218.3 L1921.1,1217.3 L1922.2,1216.2 L1923.2,1215.1 L1924.3,1214.0 L1925.3,1213.0 L1926.4,1211.9 L1927.4,1210.8 L1928.5,1209.8 L1929.5,1208.7 L1930.6,1207.6 L1931.6,1206.6 L1932.7,1205.5 L1933.8,1204.5 L1934.8,1203.4 L1935.9,1202.3 L1936.9,1201.3 L1938.0,1200.2 L1939.1,1199.2 L1940.1,1198.1 L1941.2,1197.0 L1942.3,1196.0 L1943.3,1194.9 L1944.4,1193.9 L1945.5,1192.8 L1946.5,1191.8 L1947.6,1190.7 L1948.7,1189.7 L1949.7,1188.6 L1950.8,1187.6 L1951.9,1186.5 L1952.9,1185.5 L1954.0,1184.4 L1955.1,1183.4 L1956.1,1182.3 L1957.2,1181.3 L1958.3,1180.2 L1959.4,1179.2 L1960.4,1178.1 L1961.5,1177.1 L1962.6,1176.0 L1963.7,1175.0 L1964.7,1173.9 L1965.8,1172.9 L1966.9,1171.9 L1968.0,1170.9 L1969.1,1169.8 L1970.2,1168.8 L1971.3,1167.8 L1972.4,1166.8 L1973.6,1165.8 L1974.7,1164.8 L1975.8,1163.9 L1977.0,1162.9 L1978.1,1162.0 L1979.3,1161.0 L1980.5,1160.1 L1981.7,1159.2 L1982.9,1158.3 L1984.1,1157.4 L1985.3,1156.5 L1986.6,1155.7 L1987.8,1154.8 L1989.1,1154.0 L1990.3,1153.2 L1991.6,1152.4 L1992.9,1151.7 L1994.2,1150.9 L1995.5,1150.2 L1996.8,1149.4 L1998.1,1148.7 L1999.5,1148.1 L2000.8,1147.4 L2002.2,1146.7 L2003.5,1146.1 L2004.9,1145.5 L2006.3,1144.9 L2007.7,1144.3 L2009.1,1143.8 L2010.5,1143.3 L2011.9,1142.8 L2013.3,1142.3 L2014.7,1141.8 L2016.1,1141.4 L2017.6,1140.9 L2019.0,1140.5 L2020.5,1140.2 L2021.9,1139.8 L2023.4,1139.5 L2024.9,1139.2 L2026.3,1138.9 L2027.8,1138.6 L2029.3,1138.4 L2030.8,1138.2 L2032.3,1138.0 L2033.8,1137.9 L2035.3,1137.7 L2036.8,1137.6 L2038.3,1137.5 L2039.8,1137.5 L2041.3,1137.5 L2042.8,1137.5 L2044.3,1137.5 L2045.8,1172.0 L2050.0,1224.1 L2053.7,1276.2 L2058.3,1328.2 L2064.5,1380.3 L2069.7,1421.9 L2071.0,1445.0 L2071.0,1474.0"/>
<path stroke="#f00" d="M160.0,1178.0 L161.5,1177.8 L163.0,1177.7 L164.5,1177.5 L166.0,1177.4 L167.5,1177.2 L168.9,1177.1 L170.4,1176.9 L171.9,1176.7 L173.4,1176.6 L174.9,1176.4 L176.4,1176.3 L177.9,1176.1 L179.4,1176.0 L180.9,1175.8 L182.4,1175.7 L183.9,1175.5 L185.4,1175.4 L186.8,1175.2 L188.3,1175.1 L189.8,1174.9 L191.3,1174.8 L192.8,1174.6 L194.3,1174.5 L195.8,1174.3 L197.3,1174.2 L198.8,1174.0 L200.3,1173.9 L201.8,1173.7 L203.3,1173.6 L204.8,1173.4 L206.2,1173.3 L207.7,1173.1 L209.2,1173.0 L210.7,1172.8 L212.2,1172.7 L213.7,1172.5 L215.2,1172.4 L216.7,1172.2 L218.2,1172.1 L219.7,1171.9 L221.2,1171.8 L222.7,1171.7 L224.2,1171.5 L225.7,1171.4 L227.1,1171.2 L228.6,1171.1 L230.1,1170.9 L231.6,1170.8 L233.1,1170.7 L234.6,1170.5 L236.1,1170.4 L237.6,1170.2 L239.1,1170.1 L240.6,1170.0 L242.1,1169.8 L243.6,1169.7 L245.1,1169.5 L246.6,1169.4 L248.0,1169.2 L249.5,1169.1 L251.0,1169.0 L252.5,1168.8 L254.0,1168.7 L255.5,1168.6 L257.0,1168.4 L258.5,1168.3 L260.0,1168.1 L261.5,1168.0 L263.0,1167.9 L264.5,1167.7 L266.0,1167.6 L267.5,1167.5 L269.0,1167.3 L270.4,1167.2 L271.9,1167.0 L273.4,1166.9 L274.9,1166.8 L276.4,1166.6 L277.9,1166.5 L279.4,1166.4 L280.9,1166.2 L282.4,1166.1 L283.9,1166.0 L285.4,1165.8 L286.9,1165.7 L288.4,1165.6 L289.9,1165.4 L291.4,1165.3 L292.9,1165.2 L294.3,1165.0 L295.8,1164.9 L297.3,1164.8 L298.8,1164.6 L300.3,1164.5 L301.8,1164.4 L303.3,1164.2 L304.8,1164.1 L306.3,1164.0 L307.8,1163.8 L309.3,1163.7 L310.8,1163.6 L312.3,1163.4 L313.8,1163.3 L315.3,1163.2 L316.8,1163.0 L318.2,1162.9 L319.7,1162.7 L321.2,1162.6 L322.7,1162.5 L324.2,1162.3 L325.7,1162.1 L327.2,1162.0 L328.7,1161.8 L330.2,1161.7 L331.7,1161.5 L333.2,1161.3 L334.6,1161.1 L336.1,1160.9 L337.6,1160.7 L339.1,1160.5 L340.6,1160.2 L342.1,1160.0 L343.5,1159.8 L345.0,1159.5 L346.5,1159.2 L348.0,1159.0 L349.4,1158.7 L350.9,1158.4 L352.4,1158.0 L353.8,1157.7 L355.3,1157.4 L356.8,1157.0 L358.2,1156.6 L359.6,1156.2 L361.1,1155.8 L362.5,1155.4 L364.0,1154.9 L365.4,1154.5 L366.8,1154.0 L368.2,1153.5 L369.6,1153.0 L371.0,1152.4 L372.4,1151.9 L373.8,1151.3 L375.2,1150.7 L376.6,1150.1 L377.9,1149.5 L379.3,1148.8 L380.6,1148.2 L381.9,1147.5 L383.3,1146.8 L384.6,1146.0 L385.9,1145.3 L387.2,1144.6 L388.5,1143.8 L389.8,1143.0 L391.0,1142.2 L392.3,1141.4 L393.6,1140.6 L394.8,1139.8 L396.1,1138.9 L397.3,1138.1 L398.5,1137.2 L399.7,1136.4 L401.0,1135.5 L402.2,1134.6 L403.4,1133.7 L404.6,1132.8 L405.8,1131.9 L407.0,1131.0 L408.1,1130.1 L409.3,1129.1 L410.5,1128.2 L411.7,1127.3 L412.8,1126.3 L414.0,1125.4 L415.1,1124.4 L416.3,1123.4 L417.4,1122.5 L418.6,1121.5 L419.7,1120.5 L420.9,1119.6 L422.0,1118.6 L423.1,1117.6 L424.3,1116.6 L425.4,1115.6 L426.5,1114.7 L427.7,1113.7 L428.8,1112.7 L429.9,1111.7 L431.1,1110.7 L432.2,1109.8 L433.3,1108.8 L434.5,1107.8 L435.6,1106.8 L436.8,1105.9 L437.9,1104.9 L439.1,1103.9 L440.2,1103.0 L441.4,1102.0 L442.6,1101.1 L443.7,1100.2 L444.9,1099.2 L446.1,1098.3 L447.3,1097.4 L448.5,1096.5 L449.7,1095.6 L450.9,1094.7 L452.0,1093.7 L453.2,1092.8 L454.3,1091.8 L455.4,1090.8 L456.5,1089.8 L457.6,1088.7 L458.6,1087.6 L459.6,1086.5 L460.6,1085.3 L461.4,1084.1 L462.3,1082.9 L463.1,1081.6 L463.8,1080.3 L464.6,1079.0 L465.2,1077.7 L465.9,1076.3 L466.5,1075.0 L467.2,1073.6 L467.8,1072.2 L468.3,1070.8 L468.9,1069.4 L469.5,1068.0 L470.0,1066.7 L470.5,1065.2 L471.0,1063.8 L471.5,1062.4 L472.0,1061.0 L472.5,1059.6 L473.0,1058.2 L473.4,1056.7 L473.9,1055.3 L474.3,1053.9 L474.7,1052.4 L475.1,1051.0 L475.5,1049.5 L475.9,1048.1 L476.3,1046.6 L476.6,1045.2 L477.0,1043.7 L477.3,1042.3 L477.7,1040.8 L478.0,1039.3 L478.3,1037.9 L478.6,1036.4 L478.9,1034.9 L479.2,1033.5 L479.5,1032.0 L479.8,1030.5 L480.1,1029.0 L480.4,1027.6 L480.6,1026.1 L480.9,1024.6 L481.1,1023.1 L481.4,1021.7 L481.6,1020.2 L481.9,1018.7 L482.1,1017.2 L482.4,1015.7 L482.6,1014.3 L482.8,1012.8 L483.1,1011.3 L483.3,1009.8 L483.5,1008.3 L483.7,1006.8 L483.9,1005.4 L484.1,1003.9 L484.4,1002.4 L484.6,1000.9 L484.8,999.4 L485.0,997.9 L485.2,996.4 L485.4,995.0 L485.6,993.5 L485.8,992.0 L485.9,990.5 L486.1,989.0 L486.3,987.5 L486.5,986.0 L486.7,984.5 L486.9,983.0 L487.0,981.6 L487.2,980.1 L487.4,978.6 L487.5,977.1 L487.7,975.6 L487.9,974.1 L488.0,972.6 L488.2,971.1 L488.3,969.6 L488.5,968.1 L488.6,966.7 L488.8,965.2 L488.9,963.7 L489.1,962.2 L489.2,960.7 L489.4,959.2 L489.5,957.7 L489.7,956.2 L489.8,954.7 L489.9,953.2 L490.1,951.7 L490.2,950.2 L490.3,948.7 L490.5,947.2 L490.6,945.7 L490.7,944.2 L490.8,942.8 L491.0,941.3 L491.1,939.8 L491.2,938.3 L491.3,936.8 L491.4,935.3 L491.5,933.8 L491.6,932.3 L491.8,930.8 L491.9,929.3 L492.0,927.8 L492.1,926.3 L492.2,924.8 L492.3,923.3 L492.4,921.8 L492.5,920.3 L492.6,918.8 L492.7,917.3 L492.8,915.8 L492.9,914.3 L493.0,912.8 L493.1,911.3 L493.2,909.8 L493.3,908.3 L493.4,906.9 L493.4,905.4 L493.5,903.9 L493.6,902.4 L493.7,900.9 L493.8,899.4 L493.9,897.9 L494.0,896.4 L494.1,894.9 L494.1,893.4 L494.2,891.9 L494.3,890.4 L494.4,888.9 L494.5,887.4 L494.6,885.9 L494.6,884.4 L494.7,882.9 L494.8,881.4 L494.9,879.9 L494.9,878.4 L495.0,876.9 L495.1,875.4 L495.2,873.9 L495.3,872.4 L495.3,870.9 L495.4,869.4 L495.5,867.9 L495.6,866.4 L495.6,864.9 L495.7,863.4 L495.8,861.9 L495.9,860.4 L495.9,858.9 L496.0,857.4 L496.1,855.9 L496.2,854.4 L496.2,852.9 L496.3,851.4 L496.4,849.9 L496.5,848.4 L496.5,846.9 L496.6,845.4 L496.7,844.0 L496.8,842.5 L496.8,841.0 L496.9,839.5 L497.0,838.0 L497.1,836.5 L497.2,835.0 L497.2,833.5 L497.3,832.0 L497.4,830.5 L497.5,829.0 L497.5,827.5 L497.6,826.0 L497.7,824.5 L497.8,823.0 L497.9,821.5 L497.9,820.0 L498.0,818.5 L498.1,817.0 L498.2,815.5 L498.3,814.0 L498.3,812.5 L498.4,811.0 L498.5,809.5 L498.6,808.0 L498.7,806.5 L498.8,805.0 L498.8,803.5 L498.9,802.0 L499.0,800.5 L499.1,799.0 L499.2,797.5 L499.3,796.0 L499.3,794.5 L499.4,793.0 L499.5,791.5 L499.6,790.0 L499.7,788.5 L499.8,787.0 L499.8,785.5 L499.9,784.0 L500.0,782.6 L500.1,781.1 L500.2,779.6 L500.3,778.1 L500.4,776.6 L500.4,775.1 L500.5,773.6 L500.6,772.1 L500.7,770.6 L500.8,769.1 L500.9,767.6 L501.0,766.1 L501.0,764.6 L501.1,763.1 L501.2,761.6 L501.3,760.1 L501.4,758.6 L501.5,757.1 L501.6,755.6 L501.7,754.1 L501.7,752.6 L501.8,751.1 L501.9,749.6 L502.0,748.1 L502.1,746.6 L502.2,745.1 L502.3,743.6 L502.4,742.1 L502.4,740.6 L502.5,739.1 L502.6,737.6 L502.7,736.1 L502.8,734.6 L502.9,733.1 L503.0,731.6 L503.1,730.2 L503.2,728.7 L503.2,727.2 L503.3,725.7 L503.4,724.2 L503.5,722.7 L503.6,721.2 L503.7,719.7 L503.8,718.2 L503.9,716.7 L503.9,715.2 L504.0,713.7 L504.1,712.2 L504.2,710.7 L504.3,709.2 L504.4,707.7 L504.5,706.2 L504.6,704.7 L504.7,703.2 L504.7,701.7 L504.8,700.2 L504.9,698.7 L505.0,697.2 L505.1,695.7 L505.2,694.2 L505.3,692.7 L505.4,691.2 L505.4,689.7 L505.5,688.2 L505.6,686.7 L505.7,685.2 L505.8,683.7 L505.9,682.2 L506.0,680.7 L506.1,679.2 L506.1,677.8 L506.2,676.3 L506.3,674.8 L506.4,673.3 L506.5,671.8 L506.6,670.3 L506.7,668.8 L506.8,667.3 L506.8,665.8 L506.9,664.3 L507.0,662.8 L507.1,661.3 L507.2,659.8 L507.3,658.3 L507.4,656.8 L507.4,655.3 L507.5,653.8 L507.6,652.3 L507.7,650.8 L507.8,649.3 L507.9,647.8 L507.9,646.3 L508.0,644.8 L508.1,643.3 L508.2,641.8 L508.3,640.3 L508.4,638.8 L508.4,637.3 L508.5,635.8 L508.6,634.3 L508.7,632.8 L508.8,631.3 L508.9,629.8 L508.9,628.3 L509.0,626.8 L509.1,625.3 L509.2,623.8 L509.3,622.3 L509.3,620.9 L509.4,619.4 L509.5,617.9 L509.6,616.4 L509.7,614.9 L509.7,613.4 L509.8,611.9 L509.9,610.4 L510.0,608.9 L510.1,607.4 L510.1,605.9 L510.2,604.4 L510.3,602.9 L510.4,601.4 L510.4,599.9 L510.5,598.4 L510.6,596.9 L510.7,595.4 L510.7,593.9 L510.8,592.4 L510.9,590.9 L511.0,589.4 L511.0,587.9 L511.1,586.4 L511.2,584.9 L511.3,583.4 L511.3,581.9 L511.4,580.4 L511.5,578.9 L511.6,577.4 L511.6,575.9 L511.7,574.4 L511.8,572.9 L511.8,571.4 L511.9,569.9 L512.0,568.4 L512.0,566.9 L512.1,565.4 L512.2,563.9 L512.3,562.4 L512.3,560.9 L512.4,559.4 L512.5,557.9 L512.5,556.4 L512.6,554.9 L512.7,553.4 L512.7,551.9 L512.8,550.4 L512.9,548.9 L512.9,547.5 L513.0,546.0 L513.1,544.5 L513.1,543.0 L513.2,541.5 L513.3,540.0 L513.3,538.5 L513.4,537.0 L513.5,535.5 L513.5,534.0 L513.6,532.5 L513.7,531.0 L513.8,529.5 L513.8,528.0 L513.9,526.5 L514.0,525.0 L514.0,523.5 L514.1,522.0 L514.2,520.5 L514.2,519.0 L514.3,517.5 L514.4,516.0 L514.5,514.5 L514.5,513.0 L514.6,511.5 L514.7,510.0 L514.8,508.5 L514.8,507.0 L514.9,505.5 L515.0,504.0 L515.1,502.5 L515.2,501.0 L515.2,499.5 L515.3,498.0 L515.4,496.5 L515.5,495.0 L515.6,493.5 L515.7,492.0 L515.8,490.5 L515.8,489.0 L515.9,487.5 L516.0,486.0 L516.1,484.5 L516.2,483.0 L516.3,481.6 L516.4,480.1 L516.5,478.6 L516.6,477.1 L516.7,475.6 L516.8,474.1 L516.9,472.6 L517.0,471.1 L517.1,469.6 L517.2,468.1 L517.3,466.6 L517.4,465.1 L517.5,463.6 L517.6,462.1 L517.7,460.6 L517.9,459.1 L518.0,457.6 L518.1,456.1 L518.2,454.6 L518.3,453.1 L518.4,451.6 L518.6,450.1 L518.7,448.6 L518.8,447.1 L518.9,445.7 L519.1,444.2 L519.2,442.7 L519.3,441.2 L519.5,439.7 L519.6,438.2 L519.8,436.7 L519.9,435.2 L520.0,433.7 L520.2,432.2 L520.3,430.7 L520.5,429.2 L520.6,427.7 L520.8,426.2 L520.9,424.8 L521.1,423.3 L521.3,421.8 L521.4,420.3 L521.6,418.8 L521.8,417.3 L521.9,415.8 L522.1,414.3 L522.3,412.8 L522.5,411.3 L522.7,409.9 L522.9,408.4 L523.1,406.9 L523.3,405.4 L523.5,403.9 L523.7,402.4 L523.9,400.9 L524.1,399.5 L524.4,398.0 L524.6,396.5 L524.8,395.0 L525.1,393.5 L525.3,392.1 L525.6,390.6 L525.9,389.1 L526.2,387.6 L526.5,386.2 L526.9,384.7 L527.2,383.3 L527.6,381.8 L528.0,380.4 L528.4,378.9 L528.8,377.5 L529.3,376.1 L529.8,374.6 L530.3,373.2 L530.8,371.8 L531.5,370.5 L532.4,369.3 L533.7,368.9 L534.7,370.0 L535.5,371.3 L536.1,372.7 L536.6,374.1 L537.1,375.5 L537.6,376.9 L538.0,378.3 L538.5,379.8 L538.9,381.2 L539.3,382.7 L539.7,384.1 L540.0,385.6 L540.4,387.0 L540.7,388.5 L541.0,389.9 L541.3,391.4 L541.6,392.9 L541.9,394.4 L542.2,395.8 L542.5,397.3 L542.7,398.8 L543.0,400.3 L543.2,401.7 L543.5,403.2 L543.7,404.7 L544.0,406.2 L544.2,407.7 L544.4,409.1 L544.6,410.6 L544.9,412.1 L545.1,413.6 L545.3,415.1 L545.5,416.6 L545.7,418.1 L545.9,419.5 L546.1,421.0 L546.2,422.5 L546.4,424.0 L546.6,425.5 L546.8,427.0 L546.9,428.5 L547.1,430.0 L547.3,431.5 L547.4,432.9 L547.6,434.4 L547.8,435.9 L547.9,437.4 L548.1,438.9 L548.2,440.4 L548.4,441.9 L548.5,443.4 L548.6,444.9 L548.8,446.4 L548.9,447.9 L549.1,449.4 L549.2,450.9 L549.3,452.3 L549.5,453.8 L549.6,455.3 L549.7,456.8 L549.9,458.3 L550.0,459.8 L550.1,461.3 L550.2,462.8 L550.4,464.3 L550.5,465.8 L550.6,467.3 L550.7,468.8 L550.9,470.3 L551.0,471.8 L551.1,473.3 L551.2,474.8 L551.4,476.3 L551.5,477.8 L551.6,479.2 L551.7,480.7 L551.9,482.2 L552.0,483.7 L552.1,485.2 L552.2,486.7 L552.4,488.2 L552.5,489.7 L552.6,491.2 L552.7,492.7 L552.8,494.2 L553.0,495.7 L553.1,497.2 L553.2,498.7 L553.3,500.2 L553.5,501.7 L553.6,503.2 L553.7,504.7 L553.8,506.2 L554.0,507.6 L554.1,509.1 L554.2,510.6 L554.3,512.1 L554.4,513.6 L554.6,515.1 L554.7,516.6 L554.8,518.1 L554.9,519.6 L555.0,521.1 L555.2,522.6 L555.3,524.1 L555.4,525.6 L555.5,527.1 L555.7,528.6 L555.8,530.1 L555.9,531.6 L556.0,533.1 L556.1,534.6 L556.3,536.0 L556.4,537.5 L556.5,539.0 L556.6,540.5 L556.7,542.0 L556.9,543.5 L557.0,545.0 L557.1,546.5 L557.2,548.0 L557.4,549.5 L557.5,551.0 L557.6,552.5 L557.7,554.0 L557.8,555.5 L558.0,557.0 L558.1,558.5 L558.2,560.0 L558.3,561.5 L558.4,563.0 L558.6,564.4 L558.7,565.9 L558.8,567.4 L558.9,568.9 L559.0,570.4 L559.2,571.9 L559.3,573.4 L559.4,574.9 L559.5,576.4 L559.6,577.9 L559.8,579.4 L559.9,580.9 L560.0,582.4 L560.1,583.9 L560.2,585.4 L560.4,586.9 L560.5,588.4 L560.6,589.9 L560.7,591.4 L560.8,592.9 L561.0,594.3 L561.1,595.8 L561.2,597.3 L561.3,598.8 L561.4,600.3 L561.6,601.8 L561.7,603.3 L561.8,604.8 L561.9,606.3 L562.0,607.8 L562.2,609.3 L562.3,610.8 L562.4,612.3 L562.5,613.8 L562.6,615.3 L562.8,616.8 L562.9,618.3 L563.0,619.8 L563.1,621.3 L563.2,622.8 L563.4,624.2 L563.5,625.7 L563.6,627.2 L563.7,628.7 L563.8,630.2 L564.0,631.7 L564.1,633.2 L564.2,634.7 L564.3,636.2 L564.4,637.7 L564.6,639.2 L564.7,640.7 L564.8,642.2 L564.9,643.7 L565.0,645.2 L565.2,646.7 L565.3,648.2 L565.4,649.7 L565.5,651.2 L565.6,652.6 L565.8,654.1 L565.9,655.6 L566.0,657.1 L566.1,658.6 L566.2,660.1 L566.4,661.6 L566.5,663.1 L566.6,664.6 L566.7,666.1 L566.8,667.6 L567.0,669.1 L567.1,670.6 L567.2,672.1 L567.3,673.6 L567.4,675.1 L567.6,676.6 L567.7,678.1 L567.8,679.6 L567.9,681.1 L568.0,682.5 L568.2,684.0 L568.3,685.5 L568.4,687.0 L568.5,688.5 L568.6,690.0 L568.8,691.5 L568.9,693.0 L569.0,694.5 L569.1,696.0 L569.2,697.5 L569.4,699.0 L569.5,700.5 L569.6,702.0 L569.7,703.5 L569.9,705.0 L570.0,706.5 L570.1,708.0 L570.2,709.5 L570.3,710.9 L570.5,712.4 L570.6,713.9 L570.7,715.4 L570.8,716.9 L570.9,718.4 L571.1,719.9 L571.2,721.4 L571.3,722.9 L571.4,724.4 L571.5,725.9 L571.7,727.4 L571.8,728.9 L571.9,730.4 L572.0,731.9 L572.1,733.4 L572.3,734.9 L572.4,736.4 L572.5,737.9 L572.6,739.4 L572.8,740.8 L572.9,742.3 L573.0,743.8 L573.1,745.3 L573.2,746.8 L573.4,748.3 L573.5,749.8 L573.6,751.3 L573.7,752.8 L573.8,754.3 L574.0,755.8 L574.1,757.3 L574.2,758.8 L574.3,760.3 L574.4,761.8 L574.6,763.3 L574.7,764.8 L574.8,766.3 L574.9,767.8 L575.1,769.2 L575.2,770.7 L575.3,772.2 L575.4,773.7 L575.5,775.2 L575.7,776.7 L575.8,778.2 L575.9,779.7 L576.0,781.2 L576.2,782.7 L576.3,784.2 L576.4,785.7 L576.5,787.2 L576.6,788.7 L576.8,790.2 L576.9,791.7 L577.0,793.2 L577.1,794.7 L577.2,796.2 L577.4,797.6 L577.5,799.1 L577.6,800.6 L577.7,802.1 L577.9,803.6 L578.0,805.1 L578.1,806.6 L578.2,808.1 L578.3,809.6 L578.5,811.1 L578.6,812.6 L578.7,814.1 L578.8,815.6 L579.0,817.1 L579.1,818.6 L579.2,820.1 L579.3,821.6 L579.4,823.1 L579.6,824.6 L579.7,826.0 L579.8,827.5 L579.9,829.0 L580.1,830.5 L580.2,832.0 L580.3,833.5 L580.4,835.0 L580.5,836.5 L580.7,838.0 L580.8,839.5 L580.9,841.0 L581.0,842.5 L581.2,844.0 L581.3,845.5 L581.4,847.0 L581.5,848.5 L581.6,850.0 L581.8,851.5 L581.9,853.0 L582.0,854.4 L582.1,855.9 L582.3,857.4 L582.4,858.9 L582.5,860.4 L582.6,861.9 L582.8,863.4 L582.9,864.9 L583.0,866.4 L583.1,867.9 L583.2,869.4 L583.4,870.9 L583.5,872.4 L583.6,873.9 L583.7,875.4 L583.9,876.9 L584.0,878.4 L584.1,879.9 L584.2,881.4 L584.3,882.8 L584.5,884.3 L584.6,885.8 L584.7,887.3 L584.8,888.8 L585.0,890.3 L585.1,891.8 L585.2,893.3 L585.3,894.8 L585.5,896.3 L585.6,897.8 L585.7,899.3 L585.8,900.8 L586.0,902.3 L586.1,903.8 L586.2,905.3 L586.3,906.8 L586.4,908.3 L586.6,909.8 L586.7,911.2 L586.8,912.7 L586.9,914.2 L587.1,915.7 L587.2,917.2 L587.3,918.7 L587.4,920.2 L587.6,921.7 L587.7,923.2 L587.8,924.7 L588.0,926.2 L588.1,927.7 L588.2,929.2 L588.3,930.7 L588.5,932.2 L588.6,933.7 L588.7,935.2 L588.9,936.6 L589.0,938.1 L589.2,939.6 L589.3,941.1 L589.4,942.6 L589.6,944.1 L589.7,945.6 L589.9,947.1 L590.0,948.6 L590.1,950.1 L590.3,951.6 L590.4,953.1 L590.6,954.6 L590.7,956.1 L590.9,957.5 L591.1,959.0 L591.2,960.5 L591.4,962.0 L591.5,963.5 L591.7,965.0 L591.9,966.5 L592.0,968.0 L592.2,969.5 L592.4,971.0 L592.6,972.5 L592.7,973.9 L592.9,975.4 L593.1,976.9 L593.3,978.4 L593.5,979.9 L593.7,981.4 L593.9,982.9 L594.0,984.4 L594.2,985.8 L594.4,987.3 L594.6,988.8 L594.9,990.3 L595.1,991.8 L595.3,993.3 L595.5,994.8 L595.7,996.2 L595.9,997.7 L596.2,999.2 L596.4,1000.7 L596.6,1002.2 L596.8,1003.7 L597.1,1005.1 L597.3,1006.6 L597.6,1008.1 L597.8,1009.6 L598.1,1011.1 L598.3,1012.5 L598.6,1014.0 L598.9,1015.5 L599.2,1016.9 L599.6,1018.4 L600.0,1019.8 L600.6,1021.2 L601.2,1022.6 L602.0,1023.8 L602.9,1025.1 L603.9,1026.2 L605.1,1027.1 L606.4,1027.7 L607.9,1027.5 L609.1,1026.6 L610.1,1025.5 L610.9,1024.2 L611.5,1022.9 L612.2,1021.5 L612.7,1020.1 L613.2,1018.7 L613.7,1017.3 L614.1,1015.8 L614.5,1014.4 L614.8,1012.9 L615.1,1011.4 L615.3,1010.0 L615.6,1008.5 L615.8,1007.0 L616.0,1005.5 L616.2,1004.0 L616.4,1002.5 L616.7,1001.1 L616.9,999.6 L617.2,998.1 L617.5,996.6 L617.8,995.2 L618.1,993.7 L618.4,992.2 L618.7,990.8 L619.0,989.3 L619.4,987.8 L619.7,986.4 L620.0,984.9 L620.4,983.4 L620.7,982.0 L621.0,980.5 L621.4,979.1 L621.7,977.6 L622.1,976.1 L622.4,974.7 L622.8,973.2 L623.1,971.8 L623.5,970.3 L623.8,968.9 L624.2,967.4 L624.6,965.9 L624.9,964.5 L625.3,963.0 L625.6,961.6 L626.0,960.1 L626.3,958.6 L626.6,957.2 L627.0,955.7 L627.3,954.3 L627.7,952.8 L628.0,951.3 L628.3,949.9 L628.7,948.4 L629.0,947.0 L629.3,945.5 L629.7,944.0 L630.0,942.6 L630.3,941.1 L630.7,939.6 L631.0,938.2 L631.3,936.7 L631.6,935.2 L631.9,933.8 L632.3,932.3 L632.6,930.9 L632.9,929.4 L633.2,927.9 L633.5,926.5 L633.8,925.0 L634.1,923.5 L634.4,922.0 L634.7,920.6 L635.0,919.1 L635.4,917.6 L635.7,916.2 L636.0,914.7 L636.3,913.2 L636.6,911.8 L636.8,910.3 L637.1,908.8 L637.4,907.4 L637.7,905.9 L638.0,904.4 L638.3,902.9 L638.6,901.5 L638.9,900.0 L639.2,898.5 L639.5,897.1 L639.7,895.6 L640.0,894.1 L640.3,892.6 L640.6,891.2 L640.9,889.7 L641.1,888.2 L641.4,886.7 L641.7,885.3 L642.0,883.8 L642.2,882.3 L642.5,880.8 L642.8,879.4 L643.1,877.9 L643.3,876.4 L643.6,874.9 L643.9,873.5 L644.1,872.0 L644.4,870.5 L644.7,869.0 L644.9,867.6 L645.2,866.1 L645.5,864.6 L645.7,863.1 L646.0,861.7 L646.2,860.2 L646.5,858.7 L646.8,857.2 L647.0,855.7 L647.3,854.3 L647.5,852.8 L647.8,851.3 L648.0,849.8 L648.3,848.4 L648.5,846.9 L648.8,845.4 L649.1,843.9 L649.3,842.4 L649.6,841.0 L649.8,839.5 L650.1,838.0 L650.3,836.5 L650.6,835.1 L650.8,833.6 L651.0,832.1 L651.3,830.6 L651.5,829.1 L651.8,827.7 L652.0,826.2 L652.3,824.7 L652.5,823.2 L652.8,821.7 L653.0,820.3 L653.2,818.8 L653.5,817.3 L653.7,815.8 L654.0,814.3 L654.2,812.9 L654.5,811.4 L654.7,809.9 L654.9,808.4 L655.2,806.9 L655.4,805.5 L655.7,804.0 L655.9,802.5 L656.1,801.0 L656.4,799.5 L656.6,798.1 L656.8,796.6 L657.1,795.1 L657.3,793.6 L657.6,792.1 L657.8,790.6 L658.0,789.2 L658.3,787.7 L658.5,786.2 L658.7,784.7 L659.0,783.2 L659.2,781.8 L659.5,780.3 L659.7,778.8 L659.9,777.3 L660.2,775.8 L660.4,774.4 L660.6,772.9 L660.9,771.4 L661.1,769.9 L661.4,768.4 L661.6,767.0 L661.8,765.5 L662.1,764.0 L662.3,762.5 L662.5,761.0 L662.8,759.5 L663.0,758.1 L663.2,756.6 L663.5,755.1 L663.7,753.6 L664.0,752.1 L664.2,750.7 L664.4,749.2 L664.7,747.7 L664.9,746.2 L665.2,744.7 L665.4,743.3 L665.6,741.8 L665.9,740.3 L666.1,738.8 L666.4,737.3 L666.6,735.9 L666.8,734.4 L667.1,732.9 L667.3,731.4 L667.6,729.9 L667.8,728.5 L668.1,727.0 L668.3,725.5 L668.6,724.0 L668.8,722.5 L669.0,721.1 L669.3,719.6 L669.5,718.1 L669.8,716.6 L670.0,715.1 L670.3,713.7 L670.5,712.2 L670.8,710.7 L671.0,709.2 L671.3,707.8 L671.5,706.3 L671.8,704.8 L672.0,703.3 L672.3,701.8 L672.6,700.4 L672.8,698.9 L673.1,697.4 L673.3,695.9 L673.6,694.5 L673.8,693.0 L674.1,691.5 L674.4,690.0 L674.6,688.5 L674.9,687.1 L675.1,685.6 L675.4,684.1 L675.7,682.6 L675.9,681.2 L676.2,679.7 L676.5,678.2 L676.7,676.7 L677.0,675.3 L677.3,673.8 L677.5,672.3 L677.8,670.8 L678.1,669.4 L678.4,667.9 L678.6,666.4 L678.9,664.9 L679.2,663.5 L679.5,662.0 L679.8,660.5 L680.0,659.0 L680.3,657.6 L680.6,656.1 L680.9,654.6 L681.2,653.2 L681.5,651.7 L681.7,650.2 L682.0,648.7 L682.3,647.3 L682.6,645.8 L682.9,644.3 L683.2,642.9 L683.5,641.4 L683.8,639.9 L684.1,638.4 L684.4,637.0 L684.7,635.5 L685.0,634.0 L685.3,632.6 L685.6,631.1 L685.9,629.6 L686.2,628.2 L686.5,626.7 L686.8,625.2 L687.1,623.7 L687.4,622.3 L687.7,620.8 L688.0,619.3 L688.3,617.9 L688.6,616.4 L688.9,614.9 L689.2,613.5 L689.5,612.0 L689.8,610.5 L690.1,609.1 L690.5,607.6 L690.8,606.1 L691.1,604.7 L691.4,603.2 L691.7,601.7 L692.0,600.3 L692.3,598.8 L692.6,597.3 L692.9,595.9 L693.2,594.4 L693.5,592.9 L693.8,591.4 L694.1,590.0 L694.5,588.5 L694.8,587.0 L695.1,585.6 L695.4,584.1 L695.7,582.6 L696.0,581.2 L696.3,579.7 L696.6,578.2 L696.9,576.8 L697.3,575.3 L697.6,573.9 L697.9,572.4 L698.3,570.9 L698.7,569.5 L699.0,568.0 L699.4,566.6 L699.8,565.1 L700.2,563.7 L700.7,562.3 L701.1,560.8 L701.6,559.4 L702.1,558.0 L702.6,556.6 L703.1,555.2 L703.7,553.8 L704.3,552.4 L704.9,551.0 L705.5,549.7 L706.1,548.3 L706.8,547.0 L707.5,545.6 L708.3,544.3 L709.0,543.0 L709.8,541.8 L710.6,540.5 L711.5,539.3 L712.4,538.1 L713.3,536.9 L714.2,535.7 L715.2,534.6 L716.2,533.5 L717.3,532.4 L718.4,531.5 L719.7,530.7 L721.1,530.1 L722.6,529.9 L724.1,530.2 L725.4,530.8 L726.6,531.7 L727.7,532.7 L728.8,533.8 L729.7,534.9 L730.7,536.1 L731.5,537.4 L732.3,538.7 L733.0,540.0 L733.7,541.3 L734.3,542.7 L734.9,544.1 L735.4,545.5 L736.0,546.8 L736.6,548.2 L737.2,549.6 L737.8,551.0 L738.3,552.4 L738.9,553.7 L739.5,555.1 L740.1,556.5 L740.6,557.9 L741.2,559.3 L741.7,560.7 L742.2,562.1 L742.8,563.5 L743.3,564.9 L743.8,566.3 L744.3,567.8 L744.8,569.2 L745.3,570.6 L745.7,572.0 L746.2,573.4 L746.7,574.9 L747.1,576.3 L747.6,577.7 L748.0,579.1 L748.5,580.6 L748.9,582.0 L749.4,583.4 L749.8,584.9 L750.2,586.3 L750.6,587.8 L751.0,589.2 L751.5,590.6 L751.9,592.1 L752.3,593.5 L752.7,595.0 L753.1,596.4 L753.5,597.9 L753.9,599.3 L754.3,600.8 L754.6,602.2 L755.0,603.7 L755.4,605.1 L755.8,606.6 L756.2,608.0 L756.6,609.5 L757.0,610.9 L757.3,612.4 L757.7,613.8 L758.1,615.3 L758.5,616.7 L758.8,618.2 L759.2,619.6 L759.6,621.1 L760.0,622.5 L760.3,624.0 L760.7,625.4 L761.1,626.9 L761.4,628.3 L761.8,629.8 L762.2,631.2 L762.5,632.7 L762.9,634.2 L763.3,635.6 L763.6,637.1 L764.0,638.5 L764.4,640.0 L764.7,641.4 L765.1,642.9 L765.4,644.3 L765.8,645.8 L766.1,647.3 L766.5,648.7 L766.9,650.2 L767.2,651.6 L767.6,653.1 L767.9,654.5 L768.3,656.0 L768.6,657.5 L769.0,658.9 L769.3,660.4 L769.6,661.8 L770.0,663.3 L770.3,664.8 L770.7,666.2 L771.0,667.7 L771.4,669.1 L771.7,670.6 L772.0,672.1 L772.4,673.5 L772.7,675.0 L773.1,676.4 L773.4,677.9 L773.7,679.4 L774.1,680.8 L774.4,682.3 L774.7,683.7 L775.1,685.2 L775.4,686.7 L775.7,688.1 L776.1,689.6 L776.4,691.1 L776.7,692.5 L777.1,694.0 L777.4,695.5 L777.7,696.9 L778.0,698.4 L778.4,699.8 L778.7,701.3 L779.0,702.8 L779.3,704.2 L779.7,705.7 L780.0,707.2 L780.3,708.6 L780.6,710.1 L781.0,711.6 L781.3,713.0 L781.6,714.5 L781.9,716.0 L782.2,717.4 L782.6,718.9 L782.9,720.4 L783.2,721.8 L783.5,723.3 L783.8,724.7 L784.1,726.2 L784.5,727.7 L784.8,729.1 L785.1,730.6 L785.4,732.1 L785.7,733.5 L786.0,735.0 L786.3,736.5 L786.6,737.9 L787.0,739.4 L787.3,740.9 L787.6,742.3 L787.9,743.8 L788.2,745.3 L788.5,746.8 L788.8,748.2 L789.1,749.7 L789.4,751.2 L789.7,752.6 L790.0,754.1 L790.4,755.6 L790.7,757.0 L791.0,758.5 L791.3,760.0 L791.6,761.4 L791.9,762.9 L792.2,764.4 L792.5,765.8 L792.8,767.3 L793.1,768.8 L793.4,770.2 L793.7,771.7 L794.0,773.2 L794.3,774.6 L794.6,776.1 L794.9,777.6 L795.2,779.1 L795.5,780.5 L795.8,782.0 L796.1,783.5 L796.4,784.9 L796.7,786.4 L797.0,787.9 L797.3,789.3 L797.7,790.8 L798.0,792.3 L798.3,793.7 L798.6,795.2 L798.9,796.7 L799.2,798.1 L799.5,799.6 L799.8,801.1 L800.1,802.6 L800.4,804.0 L800.7,805.5 L801.0,807.0 L801.3,808.4 L801.6,809.9 L801.9,811.4 L802.2,812.8 L802.5,814.3 L802.8,815.8 L803.1,817.3 L803.4,818.7 L803.7,820.2 L804.0,821.7 L804.3,823.1 L804.6,824.6 L804.9,826.1 L805.2,827.5 L805.5,829.0 L805.7,830.5 L806.0,831.9 L806.3,833.4 L806.6,834.9 L806.9,836.4 L807.2,837.8 L807.5,839.3 L807.8,840.8 L808.1,842.2 L808.4,843.7 L808.7,845.2 L809.0,846.6 L809.3,848.1 L809.6,849.6 L809.9,851.1 L810.2,852.5 L810.5,854.0 L810.8,855.5 L811.1,856.9 L811.4,858.4 L811.7,859.9 L812.0,861.3 L812.3,862.8 L812.6,864.3 L812.9,865.8 L813.2,867.2 L813.5,868.7 L813.8,870.2 L814.1,871.6 L814.4,873.1 L814.7,874.6 L815.0,876.0 L815.3,877.5 L815.6,879.0 L815.9,880.5 L816.1,881.9 L816.4,883.4 L816.7,884.9 L817.0,886.3 L817.3,887.8 L817.6,889.3 L817.9,890.7 L818.2,892.2 L818.5,893.7 L818.8,895.2 L819.1,896.6 L819.4,898.1 L819.7,899.6 L820.0,901.0 L820.3,902.5 L820.6,904.0 L820.9,905.5 L821.2,906.9 L821.5,908.4 L821.8,909.9 L822.1,911.3 L822.4,912.8 L822.7,914.3 L822.9,915.7 L823.2,917.2 L823.5,918.7 L823.8,920.2 L824.1,921.6 L824.4,923.1 L824.7,924.6 L825.0,926.0 L825.3,927.5 L825.6,929.0 L825.9,930.4 L826.2,931.9 L826.5,933.4 L826.8,934.9 L827.1,936.3 L827.4,937.8 L827.7,939.3 L828.0,940.7 L828.3,942.2 L828.6,943.7 L828.9,945.1 L829.2,946.6 L829.5,948.1 L829.8,949.6 L830.1,951.0 L830.4,952.5 L830.7,954.0 L831.0,955.4 L831.3,956.9 L831.6,958.4 L831.9,959.8 L832.2,961.3 L832.5,962.8 L832.8,964.3 L833.1,965.7 L833.4,967.2 L833.7,968.7 L834.0,970.1 L834.3,971.6 L834.6,973.1 L834.9,974.5 L835.2,976.0 L835.5,977.5 L835.8,978.9 L836.1,980.4 L836.4,981.9 L836.7,983.3 L837.0,984.8 L837.3,986.3 L837.6,987.7 L837.9,989.2 L838.2,990.7 L838.6,992.2 L838.9,993.6 L839.2,995.1 L839.5,996.6 L839.8,998.0 L840.1,999.5 L840.4,1001.0 L840.7,1002.4 L841.0,1003.9 L841.4,1005.4 L841.7,1006.8 L842.0,1008.3 L842.3,1009.8 L842.6,1011.2 L842.9,1012.7 L843.2,1014.2 L843.6,1015.6 L843.9,1017.1 L844.2,1018.6 L844.5,1020.0 L844.8,1021.5 L845.2,1022.9 L845.5,1024.4 L845.8,1025.9 L846.1,1027.3 L846.4,1028.8 L846.8,1030.3 L847.1,1031.7 L847.4,1033.2 L847.7,1034.7 L848.1,1036.1 L848.4,1037.6 L848.7,1039.1 L849.1,1040.5 L849.4,1042.0 L849.7,1043.4 L850.0,1044.9 L850.4,1046.4 L850.7,1047.8 L851.0,1049.3 L851.4,1050.8 L851.7,1052.2 L852.0,1053.7 L852.4,1055.1 L852.7,1056.6 L853.1,1058.1 L853.4,1059.5 L853.7,1061.0 L854.1,1062.4 L854.4,1063.9 L854.8,1065.4 L855.1,1066.8 L855.4,1068.3 L855.8,1069.7 L856.1,1071.2 L856.5,1072.7 L856.8,1074.1 L857.2,1075.6 L857.5,1077.0 L857.9,1078.5 L858.2,1080.0 L858.6,1081.4 L858.9,1082.9 L859.3,1084.3 L859.6,1085.8 L860.0,1087.2 L860.4,1088.7 L860.7,1090.2 L861.1,1091.6 L861.5,1093.1 L861.9,1094.5 L862.3,1095.9 L862.7,1097.4 L863.1,1098.8 L863.6,1100.3 L864.0,1101.7 L864.5,1103.1 L865.0,1104.5 L865.5,1105.9 L866.1,1107.3 L866.7,1108.7 L867.2,1110.1 L867.9,1111.5 L868.5,1112.8 L869.2,1114.1 L869.9,1115.5 L870.6,1116.8 L871.4,1118.1 L872.2,1119.3 L873.0,1120.6 L873.9,1121.8 L874.8,1123.0 L875.7,1124.2 L876.7,1125.3 L877.7,1126.5 L878.7,1127.6 L879.7,1128.6 L880.8,1129.7 L881.9,1130.7 L883.0,1131.7 L884.2,1132.6 L885.4,1133.6 L886.6,1134.4 L887.8,1135.3 L889.1,1136.1 L890.4,1136.9 L891.7,1137.6 L893.0,1138.3 L894.4,1139.0 L895.7,1139.6 L897.1,1140.1 L898.5,1140.7 L899.9,1141.1 L901.4,1141.6 L902.8,1142.0 L904.3,1142.4 L905.7,1142.7 L907.2,1143.1 L908.7,1143.4 L910.1,1143.7 L911.6,1144.0 L913.1,1144.3 L914.5,1144.6 L916.0,1144.8 L917.5,1145.1 L919.0,1145.3 L920.4,1145.6 L921.9,1145.8 L923.4,1146.1 L924.9,1146.3 L926.4,1146.5 L927.9,1146.7 L929.3,1146.9 L930.8,1147.1 L932.3,1147.3 L933.8,1147.5 L935.3,1147.6 L936.8,1147.8 L938.3,1147.9 L939.8,1148.1 L941.3,1148.2 L942.8,1148.4 L944.3,1148.5 L945.8,1148.6 L947.2,1148.7 L948.7,1148.9 L950.2,1149.0 L951.7,1149.1 L953.2,1149.2 L954.7,1149.3 L956.2,1149.3 L957.7,1149.4 L959.2,1149.5 L960.7,1149.6 L962.2,1149.6 L963.7,1149.7 L965.2,1149.8 L966.7,1149.8 L968.2,1149.9 L969.7,1149.9 L971.2,1149.9 L972.7,1150.0 L974.2,1150.0 L975.7,1150.0 L977.2,1150.1 L978.7,1150.1 L980.2,1150.1 L981.7,1150.1 L983.2,1150.2 L984.7,1150.2 L986.2,1150.2 L987.7,1150.2 L989.2,1150.2 L990.7,1150.2 L992.2,1150.2 L993.7,1150.2 L995.2,1150.2 L996.7,1150.2 L998.2,1150.2 L999.7,1150.2 L1001.2,1150.2 L1002.7,1150.2 L1004.2,1150.2 L1005.7,1150.2 L1007.2,1150.2 L1008.7,1150.2 L1010.2,1150.2 L1011.7,1150.2 L1013.2,1150.2 L1014.7,1150.2 L1016.2,1150.2 L1017.7,1150.2 L1019.2,1150.2 L1020.7,1150.2 L1022.2,1150.2 L1023.7,1150.2 L1025.2,1150.2 L1026.7,1150.2 L1028.2,1150.2 L1029.7,1150.2 L1031.2,1150.3 L1032.7,1150.3 L1034.2,1150.3 L1035.7,1150.3 L1037.2,1150.4 L1038.7,1150.4 L1040.2,1150.5 L1041.7,1150.5 L1043.2,1150.6 L1044.7,1150.6 L1046.2,1150.7 L1047.7,1150.7 L1049.2,1150.8 L1050.7,1150.9 L1052.2,1151.0 L1053.7,1151.0 L1055.2,1151.1 L1056.7,1151.2 L1058.2,1151.3 L1059.7,1151.4 L1061.2,1151.5 L1062.7,1151.6 L1064.2,1151.7 L1065.7,1151.8 L1067.2,1151.9 L1068.6,1152.0 L1070.1,1152.1 L1071.6,1152.2 L1073.1,1152.3 L1074.6,1152.4 L1076.1,1152.5 L1077.6,1152.6 L1079.1,1152.7 L1080.6,1152.8 L1082.1,1153.0 L1083.6,1153.1 L1085.1,1153.2 L1086.6,1153.3 L1088.1,1153.4 L1089.6,1153.5 L1091.1,1153.7 L1092.6,1153.8 L1094.1,1153.9 L1095.6,1154.0 L1097.1,1154.1 L1098.6,1154.2 L1100.1,1154.3 L1101.5,1154.4 L1103.0,1154.6 L1104.5,1154.7 L1106.0,1154.8 L1107.5,1154.9 L1109.0,1155.0 L1110.5,1155.1 L1112.0,1155.2 L1113.5,1155.3 L1115.0,1155.4 L1116.5,1155.5 L1118.0,1155.6 L1119.5,1155.6 L1121.0,1155.7 L1122.5,1155.8 L1124.0,1155.9 L1125.5,1156.0 L1127.0,1156.0 L1128.5,1156.1 L1130.0,1156.2 L1131.5,1156.3 L1133.0,1156.3 L1134.5,1156.4 L1136.0,1156.4 L1137.5,1156.5 L1139.0,1156.6 L1140.5,1156.6 L1142.0,1156.7 L1143.5,1156.7 L1145.0,1156.8 L1146.5,1156.8 L1148.0,1156.9 L1149.5,1156.9 L1151.0,1157.0 L1152.5,1157.0 L1154.0,1157.0 L1155.5,1157.1 L1157.0,1157.1 L1158.5,1157.1 L1160.0,1157.2 L1161.5,1157.2 L1163.0,1157.2 L1164.5,1157.2 L1166.0,1157.3 L1167.5,1157.3 L1169.0,1157.3 L1170.5,1157.3 L1172.0,1157.3 L1173.5,1157.4 L1175.0,1157.4 L1176.5,1157.4 L1178.0,1157.4 L1179.5,1157.4 L1181.0,1157.4 L1182.5,1157.4 L1184.0,1157.4 L1185.5,1157.4 L1187.0,1157.4 L1188.5,1157.4 L1190.0,1157.4 L1191.5,1157.4 L1193.0,1157.4 L1194.5,1157.4 L1196.0,1157.4 L1197.5,1157.4 L1199.0,1157.4 L1200.5,1157.3 L1202.0,1157.3 L1203.5,1157.3 L1205.0,1157.3 L1206.5,1157.3 L1208.0,1157.3 L1209.5,1157.2 L1211.0,1157.2 L1212.5,1157.2 L1214.0,1157.2 L1215.5,1157.1 L1217.0,1157.1 L1218.5,1157.1 L1220.0,1157.1 L1221.5,1157.0 L1223.0,1157.0 L1224.5,1157.0 L1226.0,1156.9 L1227.4,1156.9 L1228.9,1156.9 L1230.4,1156.8 L1231.9,1156.8 L1233.4,1156.8 L1234.9,1156.7 L1236.4,1156.7 L1237.9,1156.6 L1239.4,1156.6 L1240.9,1156.6 L1242.4,1156.5 L1243.9,1156.5 L1245.4,1156.4 L1246.9,1156.4 L1248.4,1156.3 L1249.9,1156.3 L1251.4,1156.2 L1252.9,1156.2 L1254.4,1156.1 L1255.9,1156.1 L1257.4,1156.0 L1258.9,1156.0 L1260.4,1155.9 L1261.9,1155.9 L1263.4,1155.8 L1264.9,1155.8 L1266.4,1155.7 L1267.9,1155.7 L1269.4,1155.6 L1270.9,1155.6 L1272.4,1155.5 L1273.9,1155.4 L1275.4,1155.4 L1276.9,1155.3 L1278.4,1155.3 L1279.9,1155.2 L1281.4,1155.1 L1282.9,1155.1 L1284.4,1155.0 L1285.9,1154.9 L1287.4,1154.9 L1288.9,1154.8 L1290.4,1154.7 L1291.9,1154.7 L1293.4,1154.6 L1294.9,1154.5 L1296.4,1154.5 L1297.9,1154.4 L1299.4,1154.3 L1300.9,1154.2 L1302.4,1154.2 L1303.9,1154.1 L1305.4,1154.0 L1306.9,1153.9 L1308.4,1153.8 L1309.9,1153.8 L1311.4,1153.7 L1312.9,1153.6 L1314.4,1153.5 L1315.9,1153.4 L1317.4,1153.3 L1318.9,1153.3 L1320.4,1153.2 L1321.9,1153.1 L1323.3,1153.0 L1324.8,1152.9 L1326.3,1152.8 L1327.8,1152.7 L1329.3,1152.6 L1330.8,1152.5 L1332.3,1152.4 L1333.8,1152.3 L1335.3,1152.2 L1336.8,1152.1 L1338.3,1152.0 L1339.8,1151.9 L1341.3,1151.8 L1342.8,1151.7 L1344.3,1151.6 L1345.8,1151.5 L1347.3,1151.4 L1348.8,1151.3 L1350.3,1151.2 L1351.8,1151.1 L1353.3,1150.9 L1354.8,1150.8 L1356.3,1150.7 L1357.8,1150.6 L1359.3,1150.5 L1360.7,1150.4 L1362.2,1150.2 L1363.7,1150.1 L1365.2,1150.0 L1366.7,1149.9 L1368.2,1149.7 L1369.7,1149.6 L1371.2,1149.5 L1372.7,1149.4 L1374.2,1149.2 L1375.7,1149.1 L1377.2,1149.0 L1378.7,1148.8 L1380.2,1148.7 L1381.7,1148.5 L1383.2,1148.4 L1384.7,1148.3 L1386.1,1148.1 L1387.6,1148.0 L1389.1,1147.8 L1390.6,1147.7 L1392.1,1147.5 L1393.6,1147.4 L1395.1,1147.2 L1396.6,1147.1 L1398.1,1146.9 L1399.6,1146.8 L1401.1,1146.6 L1402.6,1146.4 L1404.0,1146.3 L1405.5,1146.1 L1407.0,1146.0 L1408.5,1145.8 L1410.0,1145.6 L1411.5,1145.5 L1413.0,1145.3 L1414.5,1145.1 L1416.0,1144.9 L1417.5,1144.8 L1418.9,1144.6 L1420.4,1144.4 L1421.9,1144.2 L1423.4,1144.1 L1424.9,1143.9 L1426.4,1143.7 L1427.9,1143.5 L1429.4,1143.3 L1430.9,1143.1 L1432.3,1142.9 L1433.8,1142.7 L1435.3,1142.5 L1436.8,1142.3 L1438.3,1142.1 L1439.8,1141.9 L1441.3,1141.7 L1442.7,1141.5 L1444.2,1141.3 L1445.7,1141.1 L1447.2,1140.9 L1448.7,1140.7 L1450.2,1140.5 L1451.7,1140.3 L1453.1,1140.1 L1454.6,1139.9 L1456.1,1139.6 L1457.6,1139.4 L1459.1,1139.2 L1460.6,1139.0 L1462.0,1138.7 L1463.5,1138.5 L1465.0,1138.3 L1466.5,1138.0 L1468.0,1137.8 L1469.5,1137.6 L1470.9,1137.3 L1472.4,1137.1 L1473.9,1136.9 L1475.4,1136.6 L1476.9,1136.4 L1478.3,1136.1 L1479.8,1135.9 L1481.3,1135.6 L1482.8,1135.4 L1484.2,1135.1 L1485.7,1134.9 L1487.2,1134.6 L1488.7,1134.3 L1490.2,1134.1 L1491.6,1133.8 L1493.1,1133.6 L1494.6,1133.3 L1496.1,1133.0 L1497.5,1132.7 L1499.0,1132.5 L1500.5,1132.2 L1502.0,1131.9 L1503.4,1131.6 L1504.9,1131.3 L1506.4,1131.1 L1507.8,1130.8 L1509.3,1130.5 L1510.8,1130.2 L1512.3,1129.9 L1513.7,1129.6 L1515.2,1129.3 L1516.7,1129.0 L1518.1,1128.7 L1519.6,1128.4 L1521.1,1128.1 L1522.5,1127.8 L1524.0,1127.5 L1525.5,1127.2 L1526.9,1126.9 L1528.4,1126.5 L1529.9,1126.2 L1531.3,1125.9 L1532.8,1125.6 L1534.3,1125.3 L1535.7,1124.9 L1537.2,1124.6 L1538.7,1124.3 L1540.1,1123.9 L1541.6,1123.6 L1543.0,1123.3 L1544.5,1122.9 L1546.0,1122.6 L1547.4,1122.3 L1548.9,1121.9 L1550.3,1121.6 L1551.8,1121.2 L1553.3,1120.9 L1554.7,1120.5 L1556.2,1120.2 L1557.6,1119.8 L1559.1,1119.4 L1560.5,1119.1 L1562.0,1118.7 L1563.5,1118.3 L1564.9,1118.0 L1566.4,1117.6 L1567.8,1117.2 L1569.3,1116.8 L1570.7,1116.5 L1572.2,1116.1 L1573.6,1115.7 L1575.1,1115.3 L1576.5,1114.9 L1578.0,1114.5 L1579.4,1114.2 L1580.9,1113.8 L1582.3,1113.4 L1583.7,1113.0 L1585.2,1112.6 L1586.6,1112.2 L1588.1,1111.8 L1589.5,1111.3 L1591.0,1110.9 L1592.4,1110.5 L1593.9,1110.1 L1595.3,1109.7 L1596.7,1109.3 L1598.2,1108.9 L1599.6,1108.4 L1601.0,1108.0 L1602.5,1107.6 L1603.9,1107.1 L1605.4,1106.7 L1606.8,1106.3 L1608.2,1105.8 L1609.7,1105.4 L1611.1,1105.0 L1612.5,1104.5 L1614.0,1104.1 L1615.4,1103.6 L1616.8,1103.2 L1618.3,1102.7 L1619.7,1102.3 L1621.1,1101.8 L1622.5,1101.3 L1624.0,1100.9 L1625.4,1100.4 L1626.8,1099.9 L1628.2,1099.5 L1629.7,1099.0 L1631.1,1098.5 L1632.5,1098.0 L1633.9,1097.6 L1635.3,1097.1 L1636.8,1096.6 L1638.2,1096.1 L1639.6,1095.6 L1641.0,1095.1 L1642.4,1094.6 L1643.8,1094.1 L1645.3,1093.6 L1646.7,1093.1 L1648.1,1092.6 L1649.5,1092.1 L1650.9,1091.6 L1652.3,1091.1 L1653.7,1090.6 L1655.1,1090.1 L1656.5,1089.5 L1657.9,1089.0 L1659.3,1088.5 L1660.8,1088.0 L1662.2,1087.4 L1663.6,1086.9 L1665.0,1086.4 L1666.4,1085.8 L1667.8,1085.3 L1669.2,1084.7 L1670.6,1084.2 L1671.9,1083.7 L1673.3,1083.1 L1674.7,1082.6 L1676.1,1082.0 L1677.5,1081.4 L1678.9,1080.9 L1680.3,1080.3 L1681.7,1079.8 L1683.1,1079.2 L1684.5,1078.6 L1685.9,1078.0 L1687.2,1077.5 L1688.6,1076.9 L1690.0,1076.3 L1691.4,1075.7 L1692.8,1075.1 L1694.1,1074.5 L1695.5,1074.0 L1696.9,1073.4 L1698.3,1072.8 L1699.6,1072.2 L1701.0,1071.6 L1702.4,1071.0 L1703.8,1070.3 L1705.1,1069.7 L1706.5,1069.1 L1707.9,1068.5 L1709.2,1067.9 L1710.6,1067.3 L1712.0,1066.6 L1713.3,1066.0 L1714.7,1065.4 L1716.1,1064.8 L1717.4,1064.1 L1718.8,1063.5 L1720.1,1062.8 L1721.5,1062.2 L1722.8,1061.6 L1724.2,1060.9 L1725.5,1060.3 L1726.9,1059.6 L1728.2,1058.9 L1729.6,1058.3 L1730.9,1057.6 L1732.3,1057.0 L1733.6,1056.3 L1735.0,1055.6 L1736.3,1055.0 L1737.6,1054.3 L1739.0,1053.6 L1740.3,1052.9 L1741.6,1052.2 L1743.0,1051.5 L1744.3,1050.9 L1745.6,1050.2 L1747.0,1049.5 L1748.3,1048.8 L1749.6,1048.1 L1750.9,1047.4 L1752.3,1046.7 L1753.6,1046.0 L1754.9,1045.2 L1756.2,1044.5 L1757.5,1043.8 L1758.9,1043.1 L1760.2,1042.4 L1761.5,1041.6 L1762.8,1040.9 L1764.1,1040.2 L1765.4,1039.4 L1766.7,1038.7 L1768.0,1038.0 L1769.3,1037.2 L1770.6,1036.5 L1771.9,1035.7 L1773.2,1035.0 L1774.5,1034.2 L1775.8,1033.5 L1777.1,1032.7 L1778.4,1031.9 L1779.7,1031.2 L1781.0,1030.4 L1782.3,1029.6 L1783.6,1028.9 L1784.8,1028.1 L1786.1,1027.3 L1787.4,1026.5 L1788.7,1025.7 L1790.0,1025.0 L1791.2,1024.2 L1792.5,1023.4 L1793.8,1022.6 L1795.0,1021.8 L1796.3,1021.0 L1797.6,1020.2 L1798.8,1019.4 L1800.1,1018.5 L1801.4,1017.7 L1802.6,1016.9 L1803.9,1016.1 L1805.1,1015.3 L1806.4,1014.4 L1807.6,1013.6 L1808.9,1012.8 L1810.1,1012.0 L1811.4,1011.1 L1812.6,1010.3 L1813.8,1009.4 L1815.1,1008.6 L1816.3,1007.7 L1817.6,1006.9 L1818.8,1006.0 L1820.0,1005.2 L1821.2,1004.3 L1822.5,1003.5 L1823.7,1002.6 L1824.9,1001.7 L1826.1,1000.9 L1827.4,1000.0 L1828.6,999.1 L1829.8,998.2 L1831.0,997.4 L1832.2,996.5 L1833.4,995.6 L1834.7,994.7 L1835.9,993.8 L1837.1,992.9 L1838.3,992.0 L1839.5,991.1 L1840.7,990.3 L1841.9,989.4 L1843.1,988.5 L1844.3,987.6 L1845.5,986.7 L1846.7,985.7 L1847.9,984.8 L1849.1,983.9 L1850.3,983.0 L1851.4,982.1 L1852.6,981.2 L1853.8,980.3 L1855.0,979.4 L1856.2,978.4 L1857.4,977.5 L1858.6,976.6 L1859.7,975.7 L1860.9,974.7 L1862.1,973.8 L1863.3,972.9 L1864.5,972.0 L1865.6,971.0 L1866.8,970.1 L1868.0,969.2 L1869.2,968.2 L1870.3,967.3 L1871.5,966.4 L1872.7,965.4 L1873.8,964.5 L1875.0,963.5 L1876.2,962.6 L1877.3,961.6 L1878.5,960.7 L1879.7,959.8 L1880.8,958.8 L1882.0,957.9 L1883.1,956.9 L1884.3,956.0 L1885.5,955.0 L1886.6,954.1 L1887.8,953.1 L1888.9,952.2 L1890.1,951.2 L1891.3,950.2 L1892.4,949.3 L1893.6,948.3 L1894.7,947.4 L1895.9,946.4 L1897.0,945.5 L1898.2,944.5 L1899.3,943.5 L1900.5,942.6 L1901.6,941.6 L1902.8,940.7 L1903.9,939.7 L1905.1,938.7 L1906.2,937.8 L1907.4,936.8 L1908.5,935.8 L1909.7,934.9 L1910.8,933.9 L1912.0,933.0 L1913.1,932.0 L1914.3,931.0 L1915.4,930.1 L1916.6,929.1 L1917.7,928.1 L1918.9,927.2 L1920.0,926.2 L1921.2,925.2 L1922.3,924.3 L1923.5,923.3 L1924.6,922.3 L1925.8,921.4 L1926.9,920.4 L1928.0,919.4 L1929.2,918.5 L1930.3,917.5 L1931.5,916.5 L1932.6,915.6 L1933.8,914.6 L1934.9,913.6 L1936.1,912.7 L1937.2,911.7 L1938.4,910.7 L1939.5,909.8 L1940.7,908.8 L1941.8,907.9 L1943.0,906.9 L1944.1,905.9 L1945.3,905.0 L1946.4,904.0 L1947.6,903.0 L1948.7,902.1 L1949.9,901.1 L1951.0,900.2 L1952.2,899.2 L1953.3,898.3 L1954.5,897.3 L1955.7,896.3 L1956.8,895.4 L1958.0,894.4 L1959.1,893.5 L1960.3,892.5 L1961.4,891.6 L1962.6,890.6 L1963.8,889.7 L1964.9,888.7 L1966.1,887.8 L1967.2,886.8 L1968.4,885.9 L1969.6,884.9 L1970.7,884.0 L1971.9,883.0 L1973.1,882.1 L1974.2,881.2 L1975.4,880.2 L1976.6,879.3 L1977.8,878.3 L1978.9,877.4 L1980.1,876.5 L1981.3,875.5 L1982.4,874.6 L1983.6,873.7 L1984.8,872.7 L1986.0,871.8 L1987.2,870.9 L1988.3,870.0 L1989.5,869.0 L1990.7,868.1 L1991.9,867.2 L1993.1,866.3 L1994.3,865.4 L1995.4,864.4 L1996.6,863.5 L1997.8,862.6 L1999.0,861.7 L2000.2,860.8 L2001.4,859.9 L2002.6,859.0 L2003.8,858.1 L2005.0,857.2 L2006.2,856.3 L2007.4,855.4 L2008.6,854.5 L2009.8,853.6 L2011.0,852.7 L2012.2,851.8 L2013.4,850.9 L2014.6,850.1 L2015.9,849.2 L2017.1,848.3 L2018.3,847.4 L2019.5,846.5 L2020.7,845.7 L2021.9,844.8 L2023.2,843.9 L2024.4,843.1 L2025.6,842.2 L2026.9,841.3 L2028.1,840.5 L2029.3,839.6 L2030.5,838.8 L2031.8,837.9 L2033.0,837.1 L2034.3,836.2 L2035.5,835.4 L2036.7,834.6 L2038.0,833.7 L2039.2,832.9 L2040.5,832.1 L2041.7,831.2 L2043.0,830.4 L2044.2,829.6 L2045.5,828.8 L2046.8,855.0 L2050.6,891.0 L2055.1,936.0 L2058.7,981.0 L2063.0,1026.0 L2067.3,1062.0 L2071.0,1089.0 L2071.0,1116.0"/>
<path stroke="#00f" d="M160.0,650.0 L161.5,649.9 L163.0,649.8 L164.5,649.7 L166.0,649.6 L167.5,649.6 L169.0,649.5 L170.5,649.4 L172.0,649.4 L173.5,649.3 L175.0,649.2 L176.5,649.2 L178.0,649.1 L179.5,649.1 L181.0,649.0 L182.5,649.0 L184.0,649.0 L185.5,648.9 L187.0,648.9 L188.5,648.9 L190.0,648.8 L191.5,648.8 L193.0,648.8 L194.5,648.7 L196.0,648.7 L197.5,648.7 L199.0,648.7 L200.5,648.7 L202.0,648.6 L203.5,648.6 L205.0,648.6 L206.5,648.6 L208.0,648.6 L209.5,648.6 L211.0,648.6 L212.5,648.6 L214.0,648.5 L215.5,648.5 L217.0,648.5 L218.5,648.5 L220.0,648.5 L221.5,648.5 L223.0,648.5 L224.5,648.5 L226.0,648.4 L227.5,648.4 L229.0,648.4 L230.5,648.4 L232.0,648.4 L233.5,648.3 L235.0,648.3 L236.5,648.3 L238.0,648.3 L239.5,648.2 L241.0,648.2 L242.5,648.2 L244.0,648.1 L245.5,648.1 L247.0,648.1 L248.5,648.0 L250.0,648.0 L251.5,647.9 L253.0,647.9 L254.5,647.8 L256.0,647.8 L257.5,647.7 L259.0,647.6 L260.5,647.6 L262.0,647.5 L263.5,647.4 L264.9,647.3 L266.4,647.2 L267.9,647.2 L269.4,647.1 L270.9,647.0 L272.4,646.9 L273.9,646.7 L275.4,646.6 L276.9,646.5 L278.4,646.4 L279.9,646.3 L281.4,646.1 L282.9,646.0 L284.4,645.8 L285.9,645.7 L287.4,645.5 L288.9,645.3 L290.4,645.2 L291.8,645.0 L293.3,644.8 L294.8,644.6 L296.3,644.4 L297.8,644.2 L299.3,644.0 L300.8,643.7 L302.2,643.5 L303.7,643.3 L305.2,643.0 L306.7,642.8 L308.1,642.5 L309.6,642.2 L311.1,641.9 L312.6,641.6 L314.0,641.3 L315.5,641.0 L317.0,640.6 L318.4,640.3 L319.9,639.9 L321.3,639.5 L322.8,639.2 L324.2,638.7 L325.6,638.3 L327.1,637.9 L328.5,637.4 L329.9,636.9 L331.3,636.4 L332.8,635.9 L334.2,635.4 L335.6,634.9 L336.9,634.3 L338.3,633.7 L339.7,633.1 L341.1,632.5 L342.4,631.9 L343.8,631.2 L345.1,630.6 L346.5,629.9 L347.8,629.2 L349.1,628.4 L350.4,627.7 L351.7,626.9 L353.0,626.2 L354.3,625.4 L355.5,624.6 L356.8,623.7 L358.0,622.9 L359.2,622.0 L360.4,621.1 L361.6,620.2 L362.8,619.3 L364.0,618.3 L365.1,617.4 L366.3,616.4 L367.4,615.4 L368.5,614.4 L369.6,613.3 L370.6,612.3 L371.7,611.2 L372.7,610.1 L373.7,609.0 L374.7,607.9 L375.7,606.7 L376.6,605.6 L377.6,604.4 L378.5,603.2 L379.4,602.0 L380.2,600.8 L381.1,599.6 L381.9,598.3 L382.8,597.1 L383.6,595.8 L384.3,594.5 L385.1,593.2 L385.9,591.9 L386.6,590.6 L387.3,589.3 L388.0,588.0 L388.7,586.6 L389.3,585.3 L390.0,583.9 L390.6,582.6 L391.2,581.2 L391.8,579.8 L392.3,578.4 L392.9,577.0 L393.4,575.6 L394.0,574.2 L394.5,572.8 L395.0,571.4 L395.5,570.0 L395.9,568.6 L396.4,567.1 L396.8,565.7 L397.2,564.3 L397.7,562.8 L398.1,561.4 L398.5,559.9 L398.8,558.5 L399.2,557.0 L399.6,555.6 L399.9,554.1 L400.2,552.6 L400.6,551.2 L400.9,549.7 L401.2,548.2 L401.5,546.8 L401.8,545.3 L402.1,543.8 L402.4,542.4 L402.7,540.9 L402.9,539.4 L403.2,537.9 L403.4,536.5 L403.7,535.0 L403.9,533.5 L404.2,532.0 L404.4,530.5 L404.6,529.0 L404.9,527.6 L405.1,526.1 L405.3,524.6 L405.5,523.1 L405.8,521.6 L406.0,520.1 L406.2,518.7 L406.4,517.2 L406.6,515.7 L406.8,514.2 L407.0,512.7 L407.2,511.2 L407.4,509.8 L407.7,508.3 L407.9,506.8 L408.1,505.3 L408.3,503.8 L408.4,502.3 L408.6,500.8 L408.8,499.3 L409.0,497.9 L409.2,496.4 L409.4,494.9 L409.6,493.4 L409.8,491.9 L410.0,490.4 L410.2,488.9 L410.3,487.4 L410.5,486.0 L410.7,484.5 L410.9,483.0 L411.1,481.5 L411.2,480.0 L411.4,478.5 L411.6,477.0 L411.8,475.5 L411.9,474.0 L412.1,472.5 L412.3,471.1 L412.4,469.6 L412.6,468.1 L412.8,466.6 L412.9,465.1 L413.1,463.6 L413.2,462.1 L413.4,460.6 L413.5,459.1 L413.7,457.6 L413.9,456.1 L414.0,454.6 L414.2,453.2 L414.3,451.7 L414.5,450.2 L414.6,448.7 L414.7,447.2 L414.9,445.7 L415.0,444.2 L415.2,442.7 L415.3,441.2 L415.5,439.7 L415.6,438.2 L415.7,436.7 L415.9,435.2 L416.0,433.7 L416.1,432.2 L416.3,430.8 L416.4,429.3 L416.5,427.8 L416.7,426.3 L416.8,424.8 L416.9,423.3 L417.1,421.8 L417.2,420.3 L417.3,418.8 L417.4,417.3 L417.5,415.8 L417.7,414.3 L417.8,412.8 L417.9,411.3 L418.0,409.8 L418.1,408.3 L418.3,406.8 L418.4,405.3 L418.5,403.8 L418.6,402.4 L418.7,400.9 L418.8,399.4 L418.9,397.9 L419.0,396.4 L419.2,394.9 L419.3,393.4 L419.4,391.9 L419.5,390.4 L419.6,388.9 L419.7,387.4 L419.8,385.9 L419.9,384.4 L420.0,382.9 L420.1,381.4 L420.2,379.9 L420.3,378.4 L420.4,376.9 L420.5,375.4 L420.6,373.9 L420.7,372.4 L420.8,370.9 L420.9,369.4 L421.0,367.9 L421.1,366.4 L421.2,364.9 L421.3,363.4 L421.4,361.9 L421.5,360.5 L421.5,359.0 L421.6,357.5 L421.7,356.0 L421.8,354.5 L421.9,353.0 L422.0,351.5 L422.1,350.0 L422.2,348.5 L422.3,347.0 L422.3,345.5 L422.4,344.0 L422.5,342.5 L422.6,341.0 L422.7,339.5 L422.8,338.0 L422.9,336.5 L422.9,335.0 L423.0,333.5 L423.1,332.0 L423.2,330.5 L423.3,329.0 L423.4,327.5 L423.4,326.0 L423.5,324.5 L423.6,323.0 L423.7,321.5 L423.8,320.0 L423.8,318.5 L423.9,317.0 L424.0,315.5 L424.1,314.0 L424.2,312.5 L424.2,311.0 L424.3,309.5 L424.4,308.0 L424.5,306.5 L424.6,305.0 L424.6,303.5 L424.7,302.0 L424.8,300.5 L424.9,299.0 L424.9,297.6 L425.0,296.1 L425.1,294.6 L425.2,293.1 L425.2,291.6 L425.3,290.1 L425.4,288.6 L425.5,287.1 L425.6,285.6 L425.6,284.1 L425.7,282.6 L425.8,281.1 L425.9,279.6 L425.9,278.1 L426.0,276.6 L426.1,275.1 L426.2,273.6 L426.2,272.1 L426.3,270.6 L426.4,269.1 L426.5,267.6 L426.5,266.1 L426.6,264.6 L426.7,263.1 L426.8,261.6 L426.8,260.1 L426.9,258.6 L427.0,257.1 L427.1,255.6 L427.1,254.1 L427.2,252.6 L427.3,251.1 L427.4,249.6 L427.4,248.1 L427.5,246.6 L427.6,245.1 L427.7,243.6 L427.7,242.1 L427.8,240.6 L427.9,239.1 L428.0,237.6 L428.0,236.1 L428.1,234.6 L428.2,233.1 L428.3,231.6 L428.4,230.1 L428.4,228.6 L428.5,227.1 L428.6,225.6 L428.7,224.1 L428.7,222.7 L428.8,221.2 L428.9,219.7 L429.0,218.2 L429.0,216.7 L429.1,215.2 L429.2,213.7 L429.3,212.2 L429.3,210.7 L429.4,209.2 L429.5,207.7 L429.6,206.2 L429.7,204.7 L429.7,203.2 L429.8,201.7 L429.9,200.2 L430.0,198.7 L430.1,197.2 L430.1,195.7 L430.2,194.2 L430.3,192.7 L430.4,191.2 L430.4,189.7 L430.5,188.2 L430.6,186.7 L430.7,185.2 L430.8,183.7 L430.8,182.2 L430.9,180.7 L431.0,179.2 L431.1,177.7 L431.2,176.2 L431.3,174.7 L431.3,173.2 L431.4,171.7 L431.5,170.2 L431.6,168.7 L431.7,167.2 L431.8,165.7 L431.8,164.2 L431.9,162.7 L432.0,161.2 L432.1,159.7 L432.2,158.2 L432.3,156.7 L432.3,155.3 L432.4,153.8 L432.5,152.3 L432.6,150.8 L432.7,149.3 L432.8,147.8 L432.9,146.3 L433.0,144.8 L433.0,143.3 L433.1,141.8 L433.2,140.3 L433.3,138.8 L433.4,137.3 L433.5,135.8 L433.6,134.3 L433.7,132.8 L433.8,131.3 L433.8,129.8 L433.9,128.3 L434.0,126.8 L434.1,125.3 L434.2,123.8 L434.3,122.3 L434.4,120.8 L434.5,119.3 L434.6,117.8 L434.7,116.3 L434.8,114.8 L434.9,113.3 L435.0,111.8 L435.1,110.3 L435.2,108.8 L435.3,107.3 L435.4,105.8 L435.5,104.4 L435.6,102.9 L435.7,101.4 L435.8,99.9 L435.9,98.4 L436.0,96.9 L436.1,95.4 L436.2,93.9 L436.4,92.4 L436.5,90.9 L436.6,89.4 L436.7,87.9 L436.8,86.4 L437.0,84.9 L437.1,83.4 L437.2,81.9 L437.3,80.4 L437.5,78.9 L437.6,77.4 L437.8,75.9 L437.9,74.5 L438.0,73.0 L438.2,71.5 L438.3,70.0 L438.5,68.5 L438.6,67.0 L438.8,65.5 L438.9,64.0 L439.1,62.5 L439.2,61.0 L439.4,59.5 L439.6,58.0 L439.7,56.5 L439.9,55.1 L440.0,53.6 L440.1,52.1 L440.3,50.6 L440.4,49.1 L440.6,47.6 L440.7,46.1 L440.9,44.6 L441.1,43.1 L441.2,41.6 L441.5,40.1 L441.7,38.7 L442.0,37.2 L442.3,35.7 L442.6,34.3 L443.1,32.8 L443.9,31.6 L445.0,32.4 L445.7,33.8 L446.3,35.2 L446.8,36.6 L447.3,38.0 L447.7,39.4 L448.1,40.9 L448.5,42.3 L448.8,43.8 L449.0,45.3 L449.2,46.8 L449.4,48.2 L449.6,49.7 L449.8,51.2 L449.9,52.7 L450.1,54.2 L450.3,55.7 L450.4,57.2 L450.6,58.7 L450.7,60.2 L450.9,61.7 L451.0,63.2 L451.2,64.7 L451.3,66.1 L451.5,67.6 L451.6,69.1 L451.8,70.6 L451.9,72.1 L452.1,73.6 L452.2,75.1 L452.3,76.6 L452.5,78.1 L452.6,79.6 L452.7,81.1 L452.9,82.6 L453.0,84.1 L453.1,85.6 L453.3,87.1 L453.4,88.5 L453.5,90.0 L453.6,91.5 L453.8,93.0 L453.9,94.5 L454.0,96.0 L454.1,97.5 L454.3,99.0 L454.4,100.5 L454.5,102.0 L454.6,103.5 L454.7,105.0 L454.9,106.5 L455.0,108.0 L455.1,109.5 L455.2,111.0 L455.3,112.5 L455.4,114.0 L455.5,115.5 L455.7,117.0 L455.8,118.5 L455.9,119.9 L456.0,121.4 L456.1,122.9 L456.2,124.4 L456.3,125.9 L456.4,127.4 L456.6,128.9 L456.7,130.4 L456.8,131.9 L456.9,133.4 L457.0,134.9 L457.1,136.4 L457.2,137.9 L457.3,139.4 L457.4,140.9 L457.6,142.4 L457.7,143.9 L457.8,145.4 L457.9,146.9 L458.0,148.4 L458.1,149.9 L458.2,151.4 L458.4,152.9 L458.5,154.3 L458.6,155.8 L458.7,157.3 L458.8,158.8 L458.9,160.3 L459.0,161.8 L459.2,163.3 L459.3,164.8 L459.4,166.3 L459.5,167.8 L459.6,169.3 L459.8,170.8 L459.9,172.3 L460.0,173.8 L460.1,175.3 L460.2,176.8 L460.3,178.3 L460.5,179.8 L460.6,181.3 L460.7,182.8 L460.8,184.3 L460.9,185.8 L461.1,187.2 L461.2,188.7 L461.3,190.2 L461.4,191.7 L461.5,193.2 L461.7,194.7 L461.8,196.2 L461.9,197.7 L462.0,199.2 L462.1,200.7 L462.2,202.2 L462.4,203.7 L462.5,205.2 L462.6,206.7 L462.7,208.2 L462.8,209.7 L462.9,211.2 L463.1,212.7 L463.2,214.2 L463.3,215.7 L463.4,217.2 L463.5,218.6 L463.6,220.1 L463.7,221.6 L463.8,223.1 L464.0,224.6 L464.1,226.1 L464.2,227.6 L464.3,229.1 L464.4,230.6 L464.5,232.1 L464.6,233.6 L464.7,235.1 L464.8,236.6 L464.9,238.1 L465.0,239.6 L465.1,241.1 L465.2,242.6 L465.4,244.1 L465.5,245.6 L465.6,247.1 L465.7,248.6 L465.8,250.1 L465.9,251.6 L466.0,253.1 L466.1,254.6 L466.2,256.0 L466.3,257.5 L466.4,259.0 L466.5,260.5 L466.7,262.0 L466.8,263.5 L466.9,265.0 L467.0,266.5 L467.1,268.0 L467.2,269.5 L467.4,271.0 L467.5,272.5 L467.6,274.0 L467.7,275.5 L467.8,277.0 L468.0,278.5 L468.1,280.0 L468.2,281.5 L468.4,283.0 L468.5,284.5 L468.6,285.9 L468.8,287.4 L468.9,288.9 L469.1,290.4 L469.2,291.9 L469.3,293.4 L469.5,294.9 L469.6,296.4 L469.8,297.9 L470.0,299.4 L470.1,300.9 L470.3,302.4 L470.4,303.9 L470.6,305.3 L470.8,306.8 L470.9,308.3 L471.1,309.8 L471.3,311.3 L471.5,312.8 L471.7,314.3 L471.8,315.8 L472.0,317.3 L472.2,318.8 L472.4,320.2 L472.6,321.7 L472.8,323.2 L473.0,324.7 L473.2,326.2 L473.4,327.7 L473.6,329.2 L473.8,330.6 L474.1,332.1 L474.3,333.6 L474.5,335.1 L474.7,336.6 L474.9,338.1 L475.2,339.5 L475.4,341.0 L475.6,342.5 L475.9,344.0 L476.1,345.5 L476.4,346.9 L476.6,348.4 L476.9,349.9 L477.1,351.4 L477.4,352.9 L477.6,354.3 L477.9,355.8 L478.1,357.3 L478.4,358.8 L478.7,360.2 L479.0,361.7 L479.2,363.2 L479.5,364.7 L479.8,366.1 L480.1,367.6 L480.4,369.1 L480.8,370.5 L481.1,372.0 L481.4,373.5 L481.8,374.9 L482.2,376.4 L482.5,377.8 L482.9,379.3 L483.4,380.7 L483.9,382.1 L484.4,383.5 L484.9,384.9 L485.6,386.3 L486.2,387.6 L487.0,388.9 L487.8,390.2 L488.6,391.4 L489.5,392.7 L490.4,393.8 L491.4,394.9 L492.5,396.0 L493.7,396.9 L495.0,397.6 L496.5,397.9 L498.0,397.7 L499.3,397.0 L500.4,396.0 L501.4,394.8 L502.2,393.6 L503.0,392.3 L503.8,391.0 L504.5,389.7 L505.1,388.3 L505.8,387.0 L506.4,385.6 L507.0,384.2 L507.5,382.8 L508.0,381.4 L508.5,380.0 L509.0,378.6 L509.4,377.1 L509.8,375.7 L510.2,374.3 L510.5,372.8 L510.8,371.3 L511.1,369.9 L511.4,368.4 L511.7,366.9 L511.9,365.4 L512.1,363.9 L512.4,362.5 L512.6,361.0 L512.7,359.5 L512.9,358.0 L513.1,356.5 L513.3,355.0 L513.4,353.5 L513.6,352.0 L513.8,350.5 L513.9,349.1 L514.1,347.6 L514.3,346.1 L514.5,344.6 L514.6,343.1 L514.8,341.6 L515.0,340.1 L515.2,338.6 L515.4,337.1 L515.5,335.7 L515.7,334.2 L515.9,332.7 L516.1,331.2 L516.3,329.7 L516.5,328.2 L516.7,326.7 L516.8,325.2 L517.0,323.7 L517.2,322.3 L517.4,320.8 L517.6,319.3 L517.8,317.8 L518.0,316.3 L518.2,314.8 L518.4,313.3 L518.6,311.8 L518.8,310.4 L519.0,308.9 L519.2,307.4 L519.4,305.9 L519.6,304.4 L519.8,302.9 L520.0,301.4 L520.2,300.0 L520.4,298.5 L520.6,297.0 L520.8,295.5 L521.0,294.0 L521.2,292.5 L521.4,291.0 L521.6,289.5 L521.8,288.1 L522.0,286.6 L522.2,285.1 L522.4,283.6 L522.6,282.1 L522.8,280.6 L523.0,279.1 L523.2,277.7 L523.4,276.2 L523.6,274.7 L523.8,273.2 L524.0,271.7 L524.2,270.2 L524.4,268.7 L524.6,267.2 L524.8,265.8 L525.0,264.3 L525.2,262.8 L525.4,261.3 L525.6,259.8 L525.8,258.3 L526.0,256.8 L526.2,255.4 L526.4,253.9 L526.6,252.4 L526.8,250.9 L527.0,249.4 L527.2,247.9 L527.4,246.4 L527.6,244.9 L527.8,243.5 L527.9,242.0 L528.1,240.5 L528.3,239.0 L528.5,237.5 L528.7,236.0 L528.9,234.5 L529.1,233.0 L529.3,231.6 L529.5,230.1 L529.7,228.6 L529.9,227.1 L530.1,225.6 L530.2,224.1 L530.4,222.6 L530.6,221.1 L530.8,219.7 L531.0,218.2 L531.2,216.7 L531.4,215.2 L531.5,213.7 L531.7,212.2 L531.9,210.7 L532.1,209.2 L532.3,207.7 L532.4,206.3 L532.6,204.8 L532.8,203.3 L533.0,201.8 L533.2,200.3 L533.3,198.8 L533.5,197.3 L533.7,195.8 L533.8,194.3 L534.0,192.9 L534.2,191.4 L534.4,189.9 L534.5,188.4 L534.7,186.9 L534.9,185.4 L535.0,183.9 L535.2,182.4 L535.4,180.9 L535.6,179.4 L535.7,177.9 L535.9,176.5 L536.1,175.0 L536.3,173.5 L536.5,172.0 L536.7,170.5 L536.9,169.0 L537.2,167.5 L537.4,166.1 L537.6,164.6 L537.9,163.1 L538.1,161.6 L538.4,160.2 L538.7,158.7 L539.0,157.2 L539.3,155.7 L539.6,154.3 L539.9,152.8 L540.2,151.3 L540.5,149.9 L540.8,148.4 L541.1,146.9 L541.5,145.5 L541.8,144.0 L542.1,142.5 L542.4,141.1 L542.7,139.6 L542.9,138.1 L543.2,136.6 L543.5,135.2 L543.7,133.7 L544.0,132.2 L544.2,130.7 L544.5,129.3 L544.8,127.8 L545.1,126.3 L545.4,124.8 L545.7,123.4 L546.0,121.9 L546.4,120.5 L546.8,119.0 L547.2,117.6 L547.7,116.2 L548.3,114.8 L548.9,113.4 L549.6,112.1 L550.3,110.8 L551.2,109.5 L552.1,108.3 L553.1,107.2 L554.2,106.2 L555.5,105.6 L557.0,105.7 L558.2,106.6 L559.3,107.7 L560.1,108.9 L560.9,110.2 L561.6,111.5 L562.2,112.9 L562.7,114.3 L563.2,115.7 L563.6,117.1 L564.0,118.6 L564.4,120.0 L564.8,121.5 L565.2,122.9 L565.6,124.4 L566.0,125.8 L566.4,127.3 L566.7,128.7 L567.1,130.2 L567.5,131.6 L567.9,133.1 L568.3,134.5 L568.7,136.0 L569.0,137.4 L569.4,138.9 L569.8,140.3 L570.1,141.8 L570.5,143.3 L570.8,144.7 L571.2,146.2 L571.5,147.6 L571.9,149.1 L572.2,150.6 L572.6,152.0 L572.9,153.5 L573.2,154.9 L573.6,156.4 L573.9,157.9 L574.2,159.3 L574.6,160.8 L574.9,162.3 L575.2,163.7 L575.6,165.2 L575.9,166.6 L576.2,168.1 L576.6,169.6 L576.9,171.0 L577.2,172.5 L577.6,173.9 L577.9,175.4 L578.3,176.9 L578.6,178.3 L579.0,179.8 L579.3,181.2 L579.7,182.7 L580.0,184.2 L580.4,185.6 L580.7,187.1 L581.1,188.5 L581.4,190.0 L581.8,191.5 L582.1,192.9 L582.5,194.4 L582.9,195.8 L583.2,197.3 L583.6,198.7 L584.0,200.2 L584.3,201.6 L584.7,203.1 L585.1,204.5 L585.4,206.0 L585.8,207.5 L586.2,208.9 L586.6,210.4 L586.9,211.8 L587.3,213.3 L587.7,214.7 L588.1,216.2 L588.5,217.6 L588.9,219.1 L589.2,220.5 L589.6,222.0 L590.0,223.4 L590.4,224.9 L590.8,226.3 L591.2,227.7 L591.6,229.2 L592.0,230.6 L592.4,232.1 L592.8,233.5 L593.2,235.0 L593.6,236.4 L594.0,237.9 L594.4,239.3 L594.8,240.8 L595.2,242.2 L595.6,243.6 L596.1,245.1 L596.5,246.5 L596.9,248.0 L597.3,249.4 L597.7,250.8 L598.1,252.3 L598.6,253.7 L599.0,255.2 L599.4,256.6 L599.8,258.0 L600.3,259.5 L600.7,260.9 L601.1,262.3 L601.6,263.8 L602.0,265.2 L602.4,266.7 L602.9,268.1 L603.3,269.5 L603.8,271.0 L604.2,272.4 L604.7,273.8 L605.1,275.3 L605.6,276.7 L606.0,278.1 L606.5,279.5 L606.9,281.0 L607.4,282.4 L607.8,283.8 L608.3,285.3 L608.7,286.7 L609.2,288.1 L609.7,289.5 L610.1,291.0 L610.6,292.4 L611.1,293.8 L611.5,295.2 L612.0,296.7 L612.5,298.1 L613.0,299.5 L613.4,300.9 L613.9,302.4 L614.4,303.8 L614.9,305.2 L615.4,306.6 L615.8,308.0 L616.3,309.4 L616.8,310.9 L617.3,312.3 L617.8,313.7 L618.3,315.1 L618.8,316.5 L619.3,317.9 L619.8,319.4 L620.3,320.8 L620.8,322.2 L621.3,323.6 L621.8,325.0 L622.3,326.4 L622.8,327.8 L623.4,329.2 L623.9,330.6 L624.4,332.1 L624.9,333.5 L625.4,334.9 L625.9,336.3 L626.5,337.7 L627.0,339.1 L627.5,340.5 L628.1,341.9 L628.6,343.3 L629.1,344.7 L629.7,346.1 L630.2,347.5 L630.7,348.9 L631.3,350.3 L631.8,351.7 L632.4,353.1 L632.9,354.5 L633.5,355.9 L634.0,357.3 L634.6,358.7 L635.1,360.1 L635.7,361.4 L636.3,362.8 L636.9,364.2 L637.4,365.6 L638.0,367.0 L638.6,368.4 L639.2,369.7 L639.8,371.1 L640.4,372.5 L641.0,373.9 L641.6,375.2 L642.2,376.6 L642.8,378.0 L643.4,379.4 L644.0,380.7 L644.7,382.1 L645.3,383.4 L645.9,384.8 L646.6,386.2 L647.2,387.5 L647.9,388.9 L648.6,390.2 L649.2,391.5 L649.9,392.9 L650.6,394.2 L651.2,395.6 L651.9,396.9 L652.6,398.2 L653.3,399.5 L654.1,400.9 L654.8,402.2 L655.5,403.5 L656.3,404.8 L657.0,406.1 L657.8,407.3 L658.6,408.6 L659.4,409.9 L660.3,411.1 L661.1,412.4 L662.0,413.6 L662.8,414.8 L663.7,416.0 L664.7,417.2 L665.6,418.4 L666.6,419.5 L667.6,420.6 L668.6,421.8 L669.6,422.9 L670.6,423.9 L671.7,425.0 L672.8,426.0 L673.9,427.0 L675.0,428.0 L676.2,429.0 L677.3,430.0 L678.5,430.9 L679.7,431.8 L680.9,432.7 L682.1,433.6 L683.3,434.4 L684.6,435.3 L685.8,436.1 L687.1,436.9 L688.4,437.7 L689.7,438.4 L691.0,439.2 L692.3,439.9 L693.6,440.6 L694.9,441.3 L696.3,442.0 L697.6,442.6 L699.0,443.2 L700.4,443.8 L701.7,444.4 L703.1,445.0 L704.5,445.6 L705.9,446.2 L707.3,446.7 L708.7,447.3 L710.1,447.8 L711.5,448.3 L712.9,448.9 L714.3,449.4 L715.7,449.9 L717.1,450.5 L718.5,451.0 L719.9,451.5 L721.3,452.0 L722.7,452.6 L724.1,453.1 L725.5,453.7 L726.9,454.2 L728.3,454.8 L729.7,455.4 L731.0,456.0 L732.4,456.6 L733.8,457.2 L735.2,457.8 L736.5,458.4 L737.9,459.0 L739.3,459.7 L740.6,460.3 L742.0,461.0 L743.3,461.6 L744.7,462.3 L746.0,463.0 L747.3,463.6 L748.7,464.3 L750.0,465.0 L751.3,465.7 L752.7,466.4 L754.0,467.1 L755.3,467.8 L756.6,468.5 L757.9,469.2 L759.3,470.0 L760.6,470.7 L761.9,471.4 L763.2,472.2 L764.5,472.9 L765.8,473.6 L767.1,474.4 L768.4,475.1 L769.7,475.9 L771.0,476.7 L772.3,477.4 L773.6,478.2 L774.8,479.0 L776.1,479.7 L777.4,480.5 L778.7,481.3 L779.9,482.2 L781.2,483.0 L782.4,483.8 L783.6,484.7 L784.8,485.6 L786.0,486.5 L787.2,487.4 L788.4,488.4 L789.5,489.3 L790.7,490.3 L791.8,491.3 L793.0,492.3 L794.1,493.2 L795.2,494.2 L796.4,495.2 L797.5,496.2 L798.6,497.2 L799.8,498.1 L800.9,499.1 L802.1,500.0 L803.3,500.9 L804.5,501.9 L805.7,502.8 L806.9,503.7 L808.1,504.5 L809.3,505.4 L810.5,506.3 L811.8,507.1 L813.0,507.9 L814.3,508.8 L815.6,509.6 L816.8,510.3 L818.1,511.1 L819.4,511.9 L820.7,512.6 L822.0,513.3 L823.3,514.1 L824.7,514.8 L826.0,515.4 L827.4,516.1 L828.7,516.7 L830.1,517.4 L831.4,518.0 L832.8,518.6 L834.2,519.2 L835.6,519.7 L837.0,520.3 L838.4,520.8 L839.8,521.4 L841.2,521.9 L842.6,522.4 L844.0,522.9 L845.4,523.4 L846.8,523.9 L848.3,524.4 L849.7,524.9 L851.1,525.3 L852.5,525.8 L853.9,526.3 L855.4,526.7 L856.8,527.2 L858.2,527.7 L859.7,528.1 L861.1,528.6 L862.5,529.1 L863.9,529.6 L865.3,530.0 L866.8,530.5 L868.2,531.0 L869.6,531.5 L871.0,532.0 L872.4,532.6 L873.8,533.1 L875.2,533.6 L876.6,534.2 L878.0,534.7 L879.4,535.3 L880.8,535.9 L882.2,536.4 L883.5,537.0 L884.9,537.6 L886.3,538.2 L887.7,538.8 L889.0,539.4 L890.4,540.1 L891.8,540.7 L893.1,541.3 L894.5,542.0 L895.8,542.6 L897.2,543.3 L898.5,543.9 L899.9,544.6 L901.2,545.3 L902.5,545.9 L903.9,546.6 L905.2,547.3 L906.5,548.0 L907.9,548.7 L909.2,549.4 L910.5,550.1 L911.8,550.8 L913.2,551.5 L914.5,552.3 L915.8,553.0 L917.1,553.7 L918.4,554.4 L919.7,555.2 L921.0,555.9 L922.3,556.7 L923.6,557.4 L924.9,558.1 L926.2,558.9 L927.5,559.6 L928.8,560.4 L930.1,561.1 L931.4,561.9 L932.7,562.7 L934.0,563.4 L935.3,564.2 L936.6,564.9 L937.9,565.7 L939.2,566.5 L940.5,567.2 L941.8,568.0 L943.0,568.8 L944.3,569.6 L945.6,570.3 L946.9,571.1 L948.2,571.9 L949.5,572.6 L950.8,573.4 L952.1,574.2 L953.3,574.9 L954.6,575.7 L955.9,576.5 L957.2,577.2 L958.5,578.0 L959.8,578.8 L961.1,579.5 L962.4,580.3 L963.7,581.1 L965.0,581.8 L966.3,582.6 L967.5,583.3 L968.8,584.1 L970.1,584.8 L971.4,585.6 L972.7,586.3 L974.0,587.1 L975.4,587.8 L976.7,588.5 L978.0,589.3 L979.3,590.0 L980.6,590.7 L981.9,591.5 L983.2,592.2 L984.5,592.9 L985.8,593.6 L987.2,594.3 L988.5,595.0 L989.8,595.7 L991.1,596.4 L992.5,597.1 L993.8,597.8 L995.1,598.5 L996.5,599.2 L997.8,599.8 L999.2,600.5 L1000.5,601.2 L1001.9,601.8 L1003.2,602.5 L1004.6,603.1 L1005.9,603.8 L1007.3,604.4 L1008.7,605.0 L1010.0,605.6 L1011.4,606.2 L1012.8,606.9 L1014.1,607.5 L1015.5,608.0 L1016.9,608.6 L1018.3,609.2 L1019.7,609.8 L1021.1,610.3 L1022.5,610.9 L1023.9,611.4 L1025.3,611.9 L1026.7,612.5 L1028.1,613.0 L1029.5,613.5 L1030.9,614.0 L1032.3,614.5 L1033.7,614.9 L1035.2,615.4 L1036.6,615.9 L1038.0,616.3 L1039.5,616.8 L1040.9,617.2 L1042.3,617.7 L1043.8,618.1 L1045.2,618.5 L1046.7,618.9 L1048.1,619.3 L1049.6,619.7 L1051.0,620.1 L1052.5,620.4 L1053.9,620.8 L1055.4,621.2 L1056.8,621.5 L1058.3,621.8 L1059.7,622.2 L1061.2,622.5 L1062.7,622.8 L1064.1,623.1 L1065.6,623.5 L1067.1,623.8 L1068.5,624.1 L1070.0,624.3 L1071.5,624.6 L1073.0,624.9 L1074.4,625.2 L1075.9,625.4 L1077.4,625.7 L1078.9,625.9 L1080.4,626.2 L1081.8,626.4 L1083.3,626.6 L1084.8,626.8 L1086.3,627.1 L1087.8,627.3 L1089.3,627.5 L1090.7,627.7 L1092.2,627.9 L1093.7,628.1 L1095.2,628.3 L1096.7,628.4 L1098.2,628.6 L1099.7,628.8 L1101.2,628.9 L1102.7,629.1 L1104.2,629.2 L1105.6,629.4 L1107.1,629.5 L1108.6,629.7 L1110.1,629.8 L1111.6,629.9 L1113.1,630.1 L1114.6,630.2 L1116.1,630.3 L1117.6,630.4 L1119.1,630.5 L1120.6,630.6 L1122.1,630.7 L1123.6,630.8 L1125.1,630.9 L1126.6,631.0 L1128.1,631.1 L1129.6,631.2 L1131.1,631.2 L1132.6,631.3 L1134.1,631.4 L1135.6,631.5 L1137.1,631.5 L1138.6,631.6 L1140.1,631.6 L1141.6,631.7 L1143.1,631.8 L1144.6,631.8 L1146.1,631.9 L1147.6,631.9 L1149.1,631.9 L1150.6,632.0 L1152.1,632.0 L1153.6,632.1 L1155.1,632.1 L1156.6,632.1 L1158.1,632.1 L1159.6,632.2 L1161.1,632.2 L1162.6,632.2 L1164.1,632.2 L1165.6,632.2 L1167.1,632.3 L1168.6,632.3 L1170.1,632.3 L1171.6,632.3 L1173.1,632.3 L1174.6,632.3 L1176.1,632.3 L1177.6,632.3 L1179.1,632.3 L1180.6,632.3 L1182.1,632.3 L1183.6,632.3 L1185.1,632.2 L1186.6,632.2 L1188.1,632.2 L1189.6,632.2 L1191.1,632.2 L1192.6,632.1 L1194.1,632.1 L1195.6,632.1 L1197.1,632.1 L1198.6,632.0 L1200.1,632.0 L1201.6,632.0 L1203.1,631.9 L1204.6,631.9 L1206.1,631.8 L1207.6,631.8 L1209.1,631.8 L1210.6,631.7 L1212.1,631.7 L1213.5,631.6 L1215.0,631.6 L1216.5,631.5 L1218.0,631.4 L1219.5,631.4 L1221.0,631.3 L1222.5,631.3 L1224.0,631.2 L1225.5,631.1 L1227.0,631.1 L1228.5,631.0 L1230.0,630.9 L1231.5,630.9 L1233.0,630.8 L1234.5,630.7 L1236.0,630.6 L1237.5,630.5 L1239.0,630.5 L1240.5,630.4 L1242.0,630.3 L1243.5,630.2 L1245.0,630.1 L1246.5,630.0 L1248.0,629.9 L1249.5,629.9 L1251.0,629.8 L1252.5,629.7 L1254.0,629.6 L1255.5,629.5 L1257.0,629.4 L1258.5,629.3 L1260.0,629.2 L1261.5,629.1 L1263.0,629.0 L1264.5,628.8 L1266.0,628.7 L1267.5,628.6 L1269.0,628.5 L1270.5,628.4 L1271.9,628.3 L1273.4,628.2 L1274.9,628.1 L1276.4,627.9 L1277.9,627.8 L1279.4,627.7 L1280.9,627.6 L1282.4,627.5 L1283.9,627.3 L1285.4,627.2 L1286.9,627.1 L1288.4,627.0 L1289.9,626.8 L1291.4,626.7 L1292.9,626.6 L1294.4,626.4 L1295.9,626.3 L1297.4,626.2 L1298.9,626.0 L1300.3,625.9 L1301.8,625.8 L1303.3,625.6 L1304.8,625.5 L1306.3,625.4 L1307.8,625.2 L1309.3,625.1 L1310.8,624.9 L1312.3,624.8 L1313.8,624.6 L1315.3,624.5 L1316.8,624.3 L1318.3,624.2 L1319.8,624.1 L1321.2,623.9 L1322.7,623.8 L1324.2,623.6 L1325.7,623.5 L1327.2,623.3 L1328.7,623.1 L1330.2,623.0 L1331.7,622.8 L1333.2,622.7 L1334.7,622.5 L1336.2,622.4 L1337.7,622.2 L1339.2,622.1 L1340.6,621.9 L1342.1,621.7 L1343.6,621.6 L1345.1,621.4 L1346.6,621.3 L1348.1,621.1 L1349.6,620.9 L1351.1,620.8 L1352.6,620.6 L1354.1,620.4 L1355.6,620.3 L1357.0,620.1 L1358.5,619.9 L1360.0,619.8 L1361.5,619.6 L1363.0,619.4 L1364.5,619.3 L1366.0,619.1 L1367.5,618.9 L1369.0,618.8 L1370.5,618.6 L1372.0,618.4 L1373.4,618.2 L1374.9,618.1 L1376.4,617.9 L1377.9,617.7 L1379.4,617.5 L1380.9,617.4 L1382.4,617.2 L1383.9,617.0 L1385.4,616.8 L1386.8,616.7 L1388.3,616.5 L1389.8,616.3 L1391.3,616.1 L1392.8,615.9 L1394.3,615.7 L1395.8,615.6 L1397.3,615.4 L1398.8,615.2 L1400.2,615.0 L1401.7,614.8 L1403.2,614.6 L1404.7,614.4 L1406.2,614.2 L1407.7,614.0 L1409.2,613.8 L1410.7,613.7 L1412.1,613.5 L1413.6,613.3 L1415.1,613.1 L1416.6,612.9 L1418.1,612.7 L1419.6,612.5 L1421.1,612.3 L1422.5,612.0 L1424.0,611.8 L1425.5,611.6 L1427.0,611.4 L1428.5,611.2 L1430.0,611.0 L1431.5,610.8 L1432.9,610.6 L1434.4,610.4 L1435.9,610.2 L1437.4,609.9 L1438.9,609.7 L1440.4,609.5 L1441.8,609.3 L1443.3,609.1 L1444.8,608.8 L1446.3,608.6 L1447.8,608.4 L1449.3,608.2 L1450.7,607.9 L1452.2,607.7 L1453.7,607.5 L1455.2,607.2 L1456.7,607.0 L1458.2,606.8 L1459.6,606.5 L1461.1,606.3 L1462.6,606.1 L1464.1,605.8 L1465.6,605.6 L1467.0,605.3 L1468.5,605.1 L1470.0,604.8 L1471.5,604.6 L1473.0,604.3 L1474.4,604.1 L1475.9,603.8 L1477.4,603.6 L1478.9,603.3 L1480.3,603.1 L1481.8,602.8 L1483.3,602.5 L1484.8,602.3 L1486.3,602.0 L1487.7,601.7 L1489.2,601.5 L1490.7,601.2 L1492.2,600.9 L1493.6,600.6 L1495.1,600.4 L1496.6,600.1 L1498.0,599.8 L1499.5,599.5 L1501.0,599.2 L1502.5,598.9 L1503.9,598.7 L1505.4,598.4 L1506.9,598.1 L1508.3,597.8 L1509.8,597.5 L1511.3,597.2 L1512.8,596.9 L1514.2,596.6 L1515.7,596.3 L1517.2,595.9 L1518.6,595.6 L1520.1,595.3 L1521.6,595.0 L1523.0,594.7 L1524.5,594.4 L1526.0,594.0 L1527.4,593.7 L1528.9,593.4 L1530.3,593.1 L1531.8,592.7 L1533.3,592.4 L1534.7,592.0 L1536.2,591.7 L1537.7,591.4 L1539.1,591.0 L1540.6,590.7 L1542.0,590.3 L1543.5,590.0 L1544.9,589.6 L1546.4,589.3 L1547.9,588.9 L1549.3,588.5 L1550.8,588.2 L1552.2,587.8 L1553.7,587.4 L1555.1,587.0 L1556.6,586.7 L1558.0,586.3 L1559.5,585.9 L1560.9,585.5 L1562.4,585.1 L1563.8,584.7 L1565.3,584.3 L1566.7,584.0 L1568.2,583.6 L1569.6,583.2 L1571.1,582.7 L1572.5,582.3 L1573.9,581.9 L1575.4,581.5 L1576.8,581.1 L1578.3,580.7 L1579.7,580.3 L1581.1,579.8 L1582.6,579.4 L1584.0,579.0 L1585.5,578.5 L1586.9,578.1 L1588.3,577.7 L1589.8,577.2 L1591.2,576.8 L1592.6,576.3 L1594.0,575.9 L1595.5,575.4 L1596.9,575.0 L1598.3,574.5 L1599.8,574.0 L1601.2,573.6 L1602.6,573.1 L1604.0,572.6 L1605.5,572.2 L1606.9,571.7 L1608.3,571.2 L1609.7,570.7 L1611.1,570.2 L1612.6,569.7 L1614.0,569.3 L1615.4,568.8 L1616.8,568.3 L1618.2,567.8 L1619.6,567.2 L1621.0,566.7 L1622.5,566.2 L1623.9,565.7 L1625.3,565.2 L1626.7,564.7 L1628.1,564.2 L1629.5,563.6 L1630.9,563.1 L1632.3,562.6 L1633.7,562.0 L1635.1,561.5 L1636.5,560.9 L1637.9,560.4 L1639.3,559.9 L1640.7,559.3 L1642.1,558.7 L1643.5,558.2 L1644.9,557.6 L1646.2,557.1 L1647.6,556.5 L1649.0,555.9 L1650.4,555.3 L1651.8,554.8 L1653.2,554.2 L1654.6,553.6 L1655.9,553.0 L1657.3,552.4 L1658.7,551.8 L1660.1,551.2 L1661.4,550.6 L1662.8,550.0 L1664.2,549.4 L1665.6,548.8 L1666.9,548.2 L1668.3,547.6 L1669.7,547.0 L1671.0,546.4 L1672.4,545.7 L1673.8,545.1 L1675.1,544.5 L1676.5,543.8 L1677.8,543.2 L1679.2,542.6 L1680.5,541.9 L1681.9,541.3 L1683.2,540.6 L1684.6,540.0 L1685.9,539.3 L1687.3,538.6 L1688.6,538.0 L1690.0,537.3 L1691.3,536.6 L1692.7,536.0 L1694.0,535.3 L1695.3,534.6 L1696.7,533.9 L1698.0,533.3 L1699.3,532.6 L1700.7,531.9 L1702.0,531.2 L1703.3,530.5 L1704.7,529.8 L1706.0,529.1 L1707.3,528.4 L1708.6,527.7 L1709.9,527.0 L1711.3,526.2 L1712.6,525.5 L1713.9,524.8 L1715.2,524.1 L1716.5,523.3 L1717.8,522.6 L1719.1,521.9 L1720.5,521.1 L1721.8,520.4 L1723.1,519.7 L1724.4,518.9 L1725.7,518.2 L1727.0,517.4 L1728.3,516.7 L1729.6,515.9 L1730.8,515.2 L1732.1,514.4 L1733.4,513.6 L1734.7,512.9 L1736.0,512.1 L1737.3,511.3 L1738.6,510.5 L1739.8,509.8 L1741.1,509.0 L1742.4,508.2 L1743.7,507.4 L1745.0,506.6 L1746.2,505.8 L1747.5,505.0 L1748.8,504.2 L1750.0,503.4 L1751.3,502.6 L1752.6,501.8 L1753.8,501.0 L1755.1,500.2 L1756.3,499.3 L1757.6,498.5 L1758.8,497.7 L1760.1,496.9 L1761.3,496.0 L1762.6,495.2 L1763.8,494.4 L1765.1,493.5 L1766.3,492.7 L1767.6,491.8 L1768.8,491.0 L1770.0,490.1 L1771.3,489.3 L1772.5,488.4 L1773.7,487.6 L1775.0,486.7 L1776.2,485.9 L1777.4,485.0 L1778.6,484.1 L1779.9,483.2 L1781.1,482.4 L1782.3,481.5 L1783.5,480.6 L1784.7,479.7 L1785.9,478.8 L1787.1,477.9 L1788.3,477.1 L1789.5,476.2 L1790.7,475.3 L1791.9,474.4 L1793.1,473.5 L1794.3,472.6 L1795.5,471.6 L1796.7,470.7 L1797.9,469.8 L1799.1,468.9 L1800.3,468.0 L1801.5,467.1 L1802.6,466.1 L1803.8,465.2 L1805.0,464.3 L1806.2,463.3 L1807.3,462.4 L1808.5,461.5 L1809.7,460.5 L1810.9,459.6 L1812.0,458.7 L1813.2,457.7 L1814.3,456.8 L1815.5,455.8 L1816.7,454.9 L1817.8,453.9 L1819.0,452.9 L1820.1,452.0 L1821.3,451.0 L1822.4,450.1 L1823.6,449.1 L1824.7,448.1 L1825.9,447.1 L1827.0,446.2 L1828.1,445.2 L1829.3,444.2 L1830.4,443.2 L1831.5,442.3 L1832.7,441.3 L1833.8,440.3 L1834.9,439.3 L1836.1,438.3 L1837.2,437.3 L1838.3,436.3 L1839.4,435.3 L1840.6,434.3 L1841.7,433.3 L1842.8,432.3 L1843.9,431.3 L1845.0,430.3 L1846.1,429.3 L1847.2,428.3 L1848.4,427.3 L1849.5,426.3 L1850.6,425.3 L1851.7,424.3 L1852.8,423.3 L1853.9,422.2 L1855.0,421.2 L1856.1,420.2 L1857.2,419.2 L1858.3,418.1 L1859.4,417.1 L1860.5,416.1 L1861.6,415.1 L1862.6,414.0 L1863.7,413.0 L1864.8,412.0 L1865.9,410.9 L1867.0,409.9 L1868.1,408.9 L1869.2,407.8 L1870.2,406.8 L1871.3,405.8 L1872.4,404.7 L1873.5,403.7 L1874.6,402.6 L1875.6,401.6 L1876.7,400.5 L1877.8,399.5 L1878.9,398.4 L1879.9,397.4 L1881.0,396.4 L1882.1,395.3 L1883.2,394.3 L1884.2,393.2 L1885.3,392.1 L1886.4,391.1 L1887.4,390.0 L1888.5,389.0 L1889.6,387.9 L1890.6,386.9 L1891.7,385.8 L1892.7,384.7 L1893.8,383.7 L1894.9,382.6 L1895.9,381.6 L1897.0,380.5 L1898.0,379.4 L1899.1,378.4 L1900.2,377.3 L1901.2,376.3 L1902.3,375.2 L1903.3,374.1 L1904.4,373.1 L1905.5,372.0 L1906.5,370.9 L1907.6,369.9 L1908.6,368.8 L1909.7,367.7 L1910.7,366.7 L1911.8,365.6 L1912.9,364.6 L1913.9,363.5 L1915.0,362.4 L1916.0,361.4 L1917.1,360.3 L1918.1,359.2 L1919.2,358.2 L1920.3,357.1 L1921.3,356.0 L1922.4,355.0 L1923.4,353.9 L1924.5,352.9 L1925.6,351.8 L1926.6,350.7 L1927.7,349.7 L1928.7,348.6 L1929.8,347.6 L1930.9,346.5 L1931.9,345.4 L1933.0,344.4 L1934.1,343.3 L1935.1,342.3 L1936.2,341.2 L1937.3,340.2 L1938.3,339.1 L1939.4,338.1 L1940.5,337.0 L1941.5,336.0 L1942.6,334.9 L1943.7,333.9 L1944.8,332.8 L1945.8,331.8 L1946.9,330.7 L1948.0,329.7 L1949.1,328.7 L1950.2,327.6 L1951.2,326.6 L1952.3,325.6 L1953.4,324.5 L1954.5,323.5 L1955.6,322.5 L1956.7,321.4 L1957.8,320.4 L1958.9,319.4 L1960.0,318.3 L1961.1,317.3 L1962.2,316.3 L1963.3,315.3 L1964.4,314.3 L1965.5,313.3 L1966.6,312.2 L1967.7,311.2 L1968.8,310.2 L1969.9,309.2 L1971.0,308.2 L1972.1,307.2 L1973.3,306.2 L1974.4,305.2 L1975.5,304.2 L1976.6,303.2 L1977.7,302.2 L1978.9,301.2 L1980.0,300.2 L1981.1,299.3 L1982.3,298.3 L1983.4,297.3 L1984.5,296.3 L1985.7,295.4 L1986.8,294.4 L1988.0,293.4 L1989.1,292.5 L1990.3,291.5 L1991.4,290.6 L1992.6,289.6 L1993.8,288.7 L1995.0,287.7 L1996.1,286.8 L1997.3,285.9 L1998.5,285.0 L1999.7,284.1 L2000.9,283.2 L2002.2,282.4 L2003.4,281.5 L2004.6,280.6 L2005.9,279.8 L2007.1,279.0 L2008.4,278.2 L2009.7,277.4 L2011.0,276.6 L2012.3,275.9 L2013.6,275.1 L2014.9,274.4 L2016.2,273.7 L2017.5,273.0 L2018.9,272.4 L2020.3,271.7 L2021.6,271.1 L2023.0,270.6 L2024.4,270.0 L2025.8,269.5 L2027.2,268.9 L2028.6,268.5 L2030.1,268.0 L2031.5,267.6 L2032.9,267.2 L2034.4,266.8 L2035.9,266.5 L2037.3,266.2 L2038.8,265.9 L2040.3,265.7 L2041.8,265.5 L2043.3,265.3 L2044.8,265.2 L2046.3,265.1 L2047.8,265.0 L2049.3,265.0 L2050.0,280.5 L2051.9,321.0 L2055.3,371.7 L2057.5,422.3 L2061.2,473.0 L2064.8,513.5 L2069.9,554.0 L2071.0,580.0"/>
</g>
<g stroke="#000" stroke-width="5.8" fill="none" stroke-linecap="butt">
<path d="M160.0,26.8 L160.0,1585.4"/>
<path d="M129.2,1582.5 L2075.9,1582.5"/>
<path d="M129.2,111.4 H160.0"/>
<path d="M145.2,29.7 H160.0"/>
<path d="M129.2,274.9 H160.0"/>
<path d="M145.2,193.1 H160.0"/>
<path d="M129.2,438.3 H160.0"/>
<path d="M145.2,356.6 H160.0"/>
<path d="M129.2,601.8 H160.0"/>
<path d="M145.2,520.0 H160.0"/>
<path d="M129.2,765.2 H160.0"/>
<path d="M145.2,683.5 H160.0"/>
<path d="M129.2,928.7 H160.0"/>
<path d="M145.2,847.0 H160.0"/>
<path d="M129.2,1092.2 H160.0"/>
<path d="M145.2,1010.4 H160.0"/>
<path d="M129.2,1255.6 H160.0"/>
<path d="M145.2,1173.9 H160.0"/>
<path d="M129.2,1419.1 H160.0"/>
<path d="M145.2,1337.4 H160.0"/>
<path d="M145.2,1500.8 H160.0"/>
<path d="M209.7,1582.5 V1595.8"/>
<path d="M333.9,1582.5 V1610.3"/>
<path d="M458.1,1582.5 V1595.8"/>
<path d="M582.3,1582.5 V1610.3"/>
<path d="M706.6,1582.5 V1595.8"/>
<path d="M830.8,1582.5 V1610.3"/>
<path d="M955.0,1582.5 V1595.8"/>
<path d="M1079.2,1582.5 V1610.3"/>
<path d="M1203.4,1582.5 V1595.8"/>
<path d="M1327.7,1582.5 V1610.3"/>
<path d="M1451.9,1582.5 V1595.8"/>
<path d="M1576.1,1582.5 V1610.3"/>
<path d="M1700.3,1582.5 V1595.8"/>
<path d="M1824.5,1582.5 V1610.3"/>
<path d="M1948.8,1582.5 V1595.8"/>
<path d="M2073.0,1582.5 V1610.3"/>
</g>
<g fill="#000"><rect x="127.0" y="110.3" width="2.2" height="2.2"/><rect x="143.0" y="28.6" width="2.2" height="2.2"/><rect x="127.0" y="273.8" width="2.2" height="2.2"/><rect x="143.0" y="192.0" width="2.2" height="2.2"/><rect x="127.0" y="437.2" width="2.2" height="2.2"/><rect x="143.0" y="355.5" width="2.2" height="2.2"/><rect x="127.0" y="600.7" width="2.2" height="2.2"/><rect x="143.0" y="518.9" width="2.2" height="2.2"/><rect x="127.0" y="764.1" width="2.2" height="2.2"/><rect x="143.0" y="682.4" width="2.2" height="2.2"/><rect x="127.0" y="927.6" width="2.2" height="2.2"/><rect x="143.0" y="845.9" width="2.2" height="2.2"/><rect x="127.0" y="1091.1" width="2.2" height="2.2"/><rect x="143.0" y="1009.3" width="2.2" height="2.2"/><rect x="127.0" y="1254.5" width="2.2" height="2.2"/><rect x="143.0" y="1172.8" width="2.2" height="2.2"/><rect x="127.0" y="1418.0" width="2.2" height="2.2"/><rect x="143.0" y="1336.3" width="2.2" height="2.2"/><rect x="143.0" y="1499.7" width="2.2" height="2.2"/><rect x="127.0" y="1581.4" width="2.2" height="2.2"/><rect x="208.6" y="1595.8" width="2.2" height="2.2"/><rect x="332.8" y="1610.3" width="2.2" height="2.2"/><rect x="457.0" y="1595.8" width="2.2" height="2.2"/><rect x="581.2" y="1610.3" width="2.2" height="2.2"/><rect x="705.5" y="1595.8" width="2.2" height="2.2"/><rect x="829.7" y="1610.3" width="2.2" height="2.2"/><rect x="953.9" y="1595.8" width="2.2" height="2.2"/><rect x="1078.1" y="1610.3" width="2.2" height="2.2"/><rect x="1202.3" y="1595.8" width="2.2" height="2.2"/><rect x="1326.6" y="1610.3" width="2.2" height="2.2"/><rect x="1450.8" y="1595.8" width="2.2" height="2.2"/><rect x="1575.0" y="1610.3" width="2.2" height="2.2"/><rect x="1699.2" y="1595.8" width="2.2" height="2.2"/><rect x="1823.4" y="1610.3" width="2.2" height="2.2"/><rect x="1947.7" y="1595.8" width="2.2" height="2.2"/><rect x="2071.9" y="1610.3" width="2.2" height="2.2"/></g>
<g font-size="64" text-anchor="middle">
<text transform="translate(334.7,1680.3) scale(1,1.040)">100</text>
<text transform="translate(582.3,1680.3) scale(1,1.040)">200</text>
<text transform="translate(830.8,1680.3) scale(1,1.040)">300</text>
<text transform="translate(1078.7,1680.3) scale(1,1.040)">400</text>
<text transform="translate(1326.2,1680.3) scale(1,1.040)">500</text>
<text transform="translate(1574.6,1680.3) scale(1,1.040)">600</text>
<text transform="translate(1823.0,1680.3) scale(1,1.040)">700</text>
<text transform="translate(2071.0,1680.3) scale(1,1.040)">800</text>
</g>
<text transform="translate(810.5,1800.9) scale(1,1.040)" font-size="78" letter-spacing="0.27">Temperature (°C)</text>
<text transform="translate(80.9,1075) rotate(-90) scale(1,1.040)" font-size="78" letter-spacing="0.2">TCD Signal (a.u.)</text>
<text transform="translate(1199.6,534.3) scale(1,1.040)" font-size="78">IrCu/CeO<tspan font-size="47" dy="26.4">2</tspan></text>
<text transform="translate(1221.5,1075.6) scale(1,1.040)" font-size="78">IrNi/CeO<tspan font-size="47" dy="27.2">2</tspan></text>
<text transform="translate(1257.6,1419.1) scale(1,1.040)" font-size="78">Ir/CeO<tspan font-size="47" dy="27.2">2</tspan></text>
</svg></body></html>
